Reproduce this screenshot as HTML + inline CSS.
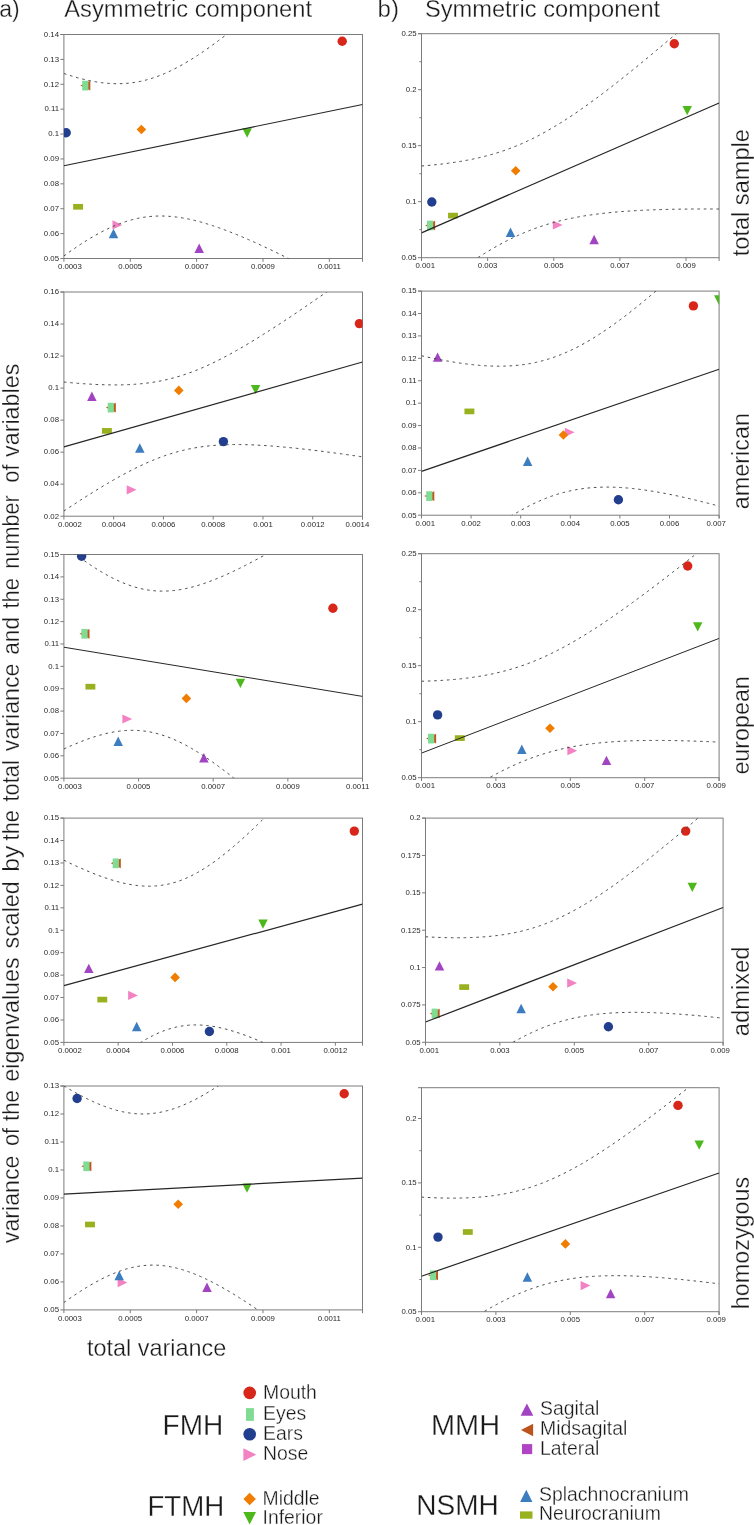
<!DOCTYPE html>
<html><head><meta charset="utf-8"><style>
html,body{margin:0;padding:0;background:#fff;}
svg{display:block;will-change:transform;}
text{font-family:"Liberation Sans", sans-serif;fill:#1a1a1a;}
.big{stroke:#fff;stroke-width:0.3px;}
.tl{font-size:7.8px;fill:#2a2a2a;}
</style></head><body>
<svg width="754" height="1525" viewBox="0 0 754 1525">
<rect width="754" height="1525" fill="#fff"/>
<clipPath id="c0"><rect x="63.9" y="34.5" width="298.6" height="224.0"/></clipPath>
<rect x="63.9" y="34.5" width="298.6" height="224.0" fill="none" stroke="#7c7c7c" stroke-width="1"/>
<path d="M60.40 34.5H63.9M362.5 258.5V261.80" stroke="#7c7c7c" stroke-width="1" fill="none"/>
<text x="59.00" y="260.80" text-anchor="end" class="tl">0.05</text>
<text x="59.00" y="235.91" text-anchor="end" class="tl">0.06</text>
<text x="59.00" y="211.02" text-anchor="end" class="tl">0.07</text>
<text x="59.00" y="186.13" text-anchor="end" class="tl">0.08</text>
<text x="59.00" y="161.24" text-anchor="end" class="tl">0.09</text>
<text x="59.00" y="136.36" text-anchor="end" class="tl">0.1</text>
<text x="59.00" y="111.47" text-anchor="end" class="tl">0.11</text>
<text x="59.00" y="86.58" text-anchor="end" class="tl">0.12</text>
<text x="59.00" y="61.69" text-anchor="end" class="tl">0.13</text>
<text x="59.00" y="36.80" text-anchor="end" class="tl">0.14</text>
<text x="69.83" y="269.20" text-anchor="middle" class="tl">0.0003</text>
<text x="130.26" y="269.20" text-anchor="middle" class="tl">0.0005</text>
<text x="196.61" y="269.20" text-anchor="middle" class="tl">0.0007</text>
<text x="262.97" y="269.20" text-anchor="middle" class="tl">0.0009</text>
<text x="329.32" y="269.20" text-anchor="middle" class="tl">0.0011</text>
<path d="M60.40 258.50H63.9M60.40 233.61H63.9M60.40 208.72H63.9M60.40 183.83H63.9M60.40 158.94H63.9M60.40 134.06H63.9M60.40 109.17H63.9M60.40 84.28H63.9M60.40 59.39H63.9M60.40 34.50H63.9M63.90 258.5V261.80M130.26 258.5V261.80M196.61 258.5V261.80M262.97 258.5V261.80M329.32 258.5V261.80" stroke="#7c7c7c" stroke-width="1" fill="none"/>
<g clip-path="url(#c0)"><polygon points="112.50,220.30 122.30,224.90 112.50,229.50" fill="#f282c2"/><polygon points="113.50,228.80 118.25,238.20 108.75,238.20" fill="#3c7dc0"/><polygon points="199.20,243.50 203.95,252.90 194.45,252.90" fill="#a244c2"/><rect x="73.15" y="203.95" width="9.90" height="5.70" fill="#98b11f"/><circle cx="66.20" cy="132.80" r="4.70" fill="#223e8e"/><polygon points="141.40,124.70 146.20,129.50 141.40,134.30 136.60,129.50" fill="#f07d00"/><polygon points="242.35,128.35 251.85,128.35 247.10,137.65" fill="#4db81b"/><polygon points="90.30,80.75 90.30,90.45 80.30,85.60" fill="#c0561c"/><rect x="82.20" y="80.75" width="6.20" height="9.70" fill="#80dc92"/><circle cx="342.20" cy="41.30" r="4.70" fill="#d8261b"/>
<line x1="63.9" y1="165.74" x2="362.5" y2="104.50" stroke="#262626" stroke-width="1.2"/>
<path d="M63.90 73.55 L65.40 74.04 L66.90 74.54 L68.40 75.02 L69.90 75.49 L71.40 75.95 L72.90 76.40 L74.40 76.84 L75.90 77.27 L77.40 77.69 L78.91 78.10 L80.41 78.49 L81.91 78.88 L83.41 79.25 L84.91 79.61 L86.41 79.96 L87.91 80.29 L89.41 80.61 L90.91 80.92 L92.41 81.21 L93.91 81.49 L95.41 81.75 L96.91 82.00 L98.41 82.23 L99.91 82.45 L101.41 82.65 L102.91 82.83 L104.41 83.00 L105.91 83.15 L107.41 83.29 L108.92 83.40 L110.42 83.50 L111.92 83.58 L113.42 83.65 L114.92 83.69 L116.42 83.71 L117.92 83.72 L119.42 83.70 L120.92 83.67 L122.42 83.62 L123.92 83.54 L125.42 83.45 L126.92 83.33 L128.42 83.19 L129.92 83.04 L131.42 82.86 L132.92 82.66 L134.42 82.44 L135.92 82.20 L137.42 81.94 L138.93 81.65 L140.43 81.35 L141.93 81.02 L143.43 80.67 L144.93 80.30 L146.43 79.91 L147.93 79.50 L149.43 79.06 L150.93 78.61 L152.43 78.14 L153.93 77.64 L155.43 77.13 L156.93 76.59 L158.43 76.03 L159.93 75.46 L161.43 74.86 L162.93 74.25 L164.43 73.61 L165.93 72.96 L167.43 72.29 L168.94 71.60 L170.44 70.89 L171.94 70.17 L173.44 69.43 L174.94 68.67 L176.44 67.89 L177.94 67.10 L179.44 66.29 L180.94 65.47 L182.44 64.63 L183.94 63.77 L185.44 62.90 L186.94 62.02 L188.44 61.12 L189.94 60.21 L191.44 59.29 L192.94 58.35 L194.44 57.40 L195.94 56.43 L197.44 55.46 L198.95 54.47 L200.45 53.47 L201.95 52.46 L203.45 51.44 L204.95 50.40 L206.45 49.36 L207.95 48.31 L209.45 47.24 L210.95 46.17 L212.45 45.09 L213.95 44.00 L215.45 42.89 L216.95 41.79 L218.45 40.67 L219.95 39.54 L221.45 38.41 L222.95 37.26 L224.45 36.11 L225.95 34.96 L227.45 33.79 L228.96 32.62 L230.46 31.44 L231.96 30.25 L233.46 29.06 L234.96 27.86 L236.46 26.66 L237.96 25.45 L239.46 24.23 L240.96 23.01 L242.46 21.78 L243.96 20.55 L245.46 19.31 L246.96 18.06 L248.46 16.81 L249.96 15.56 L251.46 14.30 L252.96 13.04 L254.46 11.77 L255.96 10.50 L257.46 9.22 L258.97 7.94 L260.47 6.65 L261.97 5.36 L263.47 4.07 L264.97 2.77 L266.47 1.47 L267.97 0.17 L269.47 -1.14 L270.97 -2.45 L272.47 -3.76 L273.97 -5.08 L275.47 -6.40 L276.97 -7.73 L278.47 -9.06 L279.97 -10.39 L281.47 -11.72 L282.97 -13.06 L284.47 -14.39 L285.97 -15.74 L287.47 -17.08 L288.98 -18.43 L290.48 -19.78 L291.98 -21.13 L293.48 -22.48 L294.98 -23.84 L296.48 -25.20 L297.98 -26.56 L299.48 -27.92 L300.98 -29.29 L302.48 -30.66 L303.98 -32.03 L305.48 -33.40 L306.98 -34.77 L308.48 -36.15 L309.98 -37.53 L311.48 -38.91 L312.98 -40.29 L314.48 -41.67 L315.98 -43.06 L317.48 -44.45 L318.99 -45.84 L320.49 -47.23 L321.99 -48.62 L323.49 -50.01 L324.99 -51.41 L326.49 -52.80 L327.99 -54.20 L329.49 -55.60 L330.99 -57.00 L332.49 -58.40 L333.99 -59.81 L335.49 -61.21 L336.99 -62.62 L338.49 -64.03 L339.99 -65.44 L341.49 -66.85 L342.99 -68.26 L344.49 -69.67 L345.99 -71.09 L347.49 -72.50 L349.00 -73.92 L350.50 -75.33 L352.00 -76.75 L353.50 -78.17 L355.00 -79.59 L356.50 -81.01 L358.00 -82.44 L359.50 -83.86 L361.00 -85.29 L362.50 -86.71" fill="none" stroke="#4a4a4a" stroke-width="1" stroke-dasharray="2.6 3.75"/>
<path d="M63.90 255.95 L65.40 254.85 L66.90 253.77 L68.40 252.69 L69.90 251.63 L71.40 250.57 L72.90 249.53 L74.40 248.49 L75.90 247.47 L77.40 246.46 L78.91 245.46 L80.41 244.46 L81.91 243.49 L83.41 242.52 L84.91 241.57 L86.41 240.63 L87.91 239.70 L89.41 238.78 L90.91 237.88 L92.41 237.00 L93.91 236.12 L95.41 235.27 L96.91 234.43 L98.41 233.60 L99.91 232.79 L101.41 231.99 L102.91 231.21 L104.41 230.45 L105.91 229.70 L107.41 228.98 L108.92 228.27 L110.42 227.57 L111.92 226.90 L113.42 226.24 L114.92 225.60 L116.42 224.99 L117.92 224.39 L119.42 223.81 L120.92 223.25 L122.42 222.71 L123.92 222.19 L125.42 221.69 L126.92 221.21 L128.42 220.75 L129.92 220.31 L131.42 219.90 L132.92 219.50 L134.42 219.13 L135.92 218.78 L137.42 218.45 L138.93 218.14 L140.43 217.85 L141.93 217.58 L143.43 217.33 L144.93 217.11 L146.43 216.91 L147.93 216.72 L149.43 216.56 L150.93 216.42 L152.43 216.30 L153.93 216.20 L155.43 216.13 L156.93 216.07 L158.43 216.03 L159.93 216.01 L161.43 216.01 L162.93 216.03 L164.43 216.07 L165.93 216.13 L167.43 216.21 L168.94 216.30 L170.44 216.42 L171.94 216.55 L173.44 216.69 L174.94 216.86 L176.44 217.04 L177.94 217.24 L179.44 217.45 L180.94 217.68 L182.44 217.93 L183.94 218.19 L185.44 218.46 L186.94 218.75 L188.44 219.06 L189.94 219.38 L191.44 219.71 L192.94 220.05 L194.44 220.41 L195.94 220.78 L197.44 221.16 L198.95 221.55 L200.45 221.96 L201.95 222.37 L203.45 222.80 L204.95 223.24 L206.45 223.69 L207.95 224.15 L209.45 224.62 L210.95 225.10 L212.45 225.59 L213.95 226.08 L215.45 226.59 L216.95 227.11 L218.45 227.63 L219.95 228.16 L221.45 228.70 L222.95 229.25 L224.45 229.81 L225.95 230.37 L227.45 230.94 L228.96 231.52 L230.46 232.11 L231.96 232.70 L233.46 233.30 L234.96 233.90 L236.46 234.51 L237.96 235.13 L239.46 235.75 L240.96 236.38 L242.46 237.01 L243.96 237.65 L245.46 238.30 L246.96 238.95 L248.46 239.60 L249.96 240.26 L251.46 240.93 L252.96 241.60 L254.46 242.27 L255.96 242.95 L257.46 243.63 L258.97 244.32 L260.47 245.01 L261.97 245.70 L263.47 246.40 L264.97 247.11 L266.47 247.81 L267.97 248.52 L269.47 249.24 L270.97 249.95 L272.47 250.67 L273.97 251.40 L275.47 252.12 L276.97 252.85 L278.47 253.59 L279.97 254.32 L281.47 255.06 L282.97 255.80 L284.47 256.55 L285.97 257.30 L287.47 258.05 L288.98 258.80 L290.48 259.56 L291.98 260.31 L293.48 261.07 L294.98 261.84 L296.48 262.60 L297.98 263.37 L299.48 264.14 L300.98 264.91 L302.48 265.68 L303.98 266.46 L305.48 267.24 L306.98 268.02 L308.48 268.80 L309.98 269.58 L311.48 270.37 L312.98 271.16 L314.48 271.95 L315.98 272.74 L317.48 273.53 L318.99 274.33 L320.49 275.12 L321.99 275.92 L323.49 276.72 L324.99 277.52 L326.49 278.32 L327.99 279.13 L329.49 279.93 L330.99 280.74 L332.49 281.55 L333.99 282.36 L335.49 283.17 L336.99 283.98 L338.49 284.79 L339.99 285.61 L341.49 286.43 L342.99 287.24 L344.49 288.06 L345.99 288.88 L347.49 289.70 L349.00 290.52 L350.50 291.35 L352.00 292.17 L353.50 293.00 L355.00 293.82 L356.50 294.65 L358.00 295.48 L359.50 296.31 L361.00 297.14 L362.50 297.97" fill="none" stroke="#4a4a4a" stroke-width="1" stroke-dasharray="2.6 3.75"/>
</g>
<clipPath id="c1"><rect x="63.9" y="292.0" width="298.6" height="224.20000000000005"/></clipPath>
<rect x="63.9" y="292.0" width="298.6" height="224.20000000000005" fill="none" stroke="#7c7c7c" stroke-width="1"/>
<path d="M60.40 292.0H63.9M362.5 516.2V519.50" stroke="#7c7c7c" stroke-width="1" fill="none"/>
<text x="59.00" y="518.50" text-anchor="end" class="tl">0.02</text>
<text x="59.00" y="486.47" text-anchor="end" class="tl">0.04</text>
<text x="59.00" y="454.44" text-anchor="end" class="tl">0.06</text>
<text x="59.00" y="422.41" text-anchor="end" class="tl">0.08</text>
<text x="59.00" y="390.39" text-anchor="end" class="tl">0.1</text>
<text x="59.00" y="358.36" text-anchor="end" class="tl">0.12</text>
<text x="59.00" y="326.33" text-anchor="end" class="tl">0.14</text>
<text x="59.00" y="294.30" text-anchor="end" class="tl">0.16</text>
<text x="69.83" y="526.90" text-anchor="middle" class="tl">0.0002</text>
<text x="113.67" y="526.90" text-anchor="middle" class="tl">0.0004</text>
<text x="163.43" y="526.90" text-anchor="middle" class="tl">0.0006</text>
<text x="213.20" y="526.90" text-anchor="middle" class="tl">0.0008</text>
<text x="262.97" y="526.90" text-anchor="middle" class="tl">0.001</text>
<text x="312.73" y="526.90" text-anchor="middle" class="tl">0.0012</text>
<text x="357.37" y="526.90" text-anchor="middle" class="tl">0.0014</text>
<path d="M60.40 516.20H63.9M60.40 484.17H63.9M60.40 452.14H63.9M60.40 420.11H63.9M60.40 388.09H63.9M60.40 356.06H63.9M60.40 324.03H63.9M60.40 292.00H63.9M63.90 516.2V519.50M113.67 516.2V519.50M163.43 516.2V519.50M213.20 516.2V519.50M262.97 516.2V519.50M312.73 516.2V519.50M362.50 516.2V519.50" stroke="#7c7c7c" stroke-width="1" fill="none"/>
<g clip-path="url(#c1)"><polygon points="126.70,485.20 136.50,489.80 126.70,494.40" fill="#f282c2"/><polygon points="139.80,443.30 144.55,452.70 135.05,452.70" fill="#3c7dc0"/><polygon points="91.90,391.60 96.65,401.00 87.15,401.00" fill="#a244c2"/><rect x="101.95" y="428.05" width="9.90" height="5.70" fill="#98b11f"/><circle cx="223.40" cy="441.60" r="4.70" fill="#223e8e"/><polygon points="178.80,385.60 183.60,390.40 178.80,395.20 174.00,390.40" fill="#f07d00"/><polygon points="250.85,384.95 260.35,384.95 255.60,394.25" fill="#4db81b"/><polygon points="115.80,402.75 115.80,412.45 105.80,407.60" fill="#c0561c"/><rect x="107.70" y="402.75" width="6.20" height="9.70" fill="#80dc92"/><circle cx="359.40" cy="323.60" r="4.70" fill="#d8261b"/>
<line x1="63.9" y1="446.84" x2="362.5" y2="362.00" stroke="#262626" stroke-width="1.2"/>
<path d="M63.90 382.05 L65.40 382.20 L66.90 382.34 L68.40 382.48 L69.90 382.62 L71.40 382.75 L72.90 382.88 L74.40 383.01 L75.90 383.13 L77.40 383.25 L78.91 383.37 L80.41 383.49 L81.91 383.60 L83.41 383.71 L84.91 383.81 L86.41 383.91 L87.91 384.00 L89.41 384.10 L90.91 384.18 L92.41 384.27 L93.91 384.35 L95.41 384.42 L96.91 384.49 L98.41 384.56 L99.91 384.62 L101.41 384.67 L102.91 384.72 L104.41 384.77 L105.91 384.81 L107.41 384.84 L108.92 384.87 L110.42 384.89 L111.92 384.91 L113.42 384.92 L114.92 384.92 L116.42 384.92 L117.92 384.91 L119.42 384.89 L120.92 384.87 L122.42 384.84 L123.92 384.80 L125.42 384.75 L126.92 384.69 L128.42 384.63 L129.92 384.56 L131.42 384.48 L132.92 384.39 L134.42 384.29 L135.92 384.19 L137.42 384.07 L138.93 383.94 L140.43 383.81 L141.93 383.66 L143.43 383.50 L144.93 383.34 L146.43 383.16 L147.93 382.97 L149.43 382.77 L150.93 382.56 L152.43 382.34 L153.93 382.10 L155.43 381.86 L156.93 381.60 L158.43 381.33 L159.93 381.05 L161.43 380.75 L162.93 380.45 L164.43 380.13 L165.93 379.79 L167.43 379.45 L168.94 379.09 L170.44 378.72 L171.94 378.33 L173.44 377.93 L174.94 377.52 L176.44 377.10 L177.94 376.66 L179.44 376.21 L180.94 375.75 L182.44 375.27 L183.94 374.78 L185.44 374.28 L186.94 373.76 L188.44 373.24 L189.94 372.69 L191.44 372.14 L192.94 371.57 L194.44 371.00 L195.94 370.40 L197.44 369.80 L198.95 369.19 L200.45 368.56 L201.95 367.92 L203.45 367.27 L204.95 366.61 L206.45 365.94 L207.95 365.26 L209.45 364.57 L210.95 363.87 L212.45 363.15 L213.95 362.43 L215.45 361.70 L216.95 360.95 L218.45 360.20 L219.95 359.44 L221.45 358.67 L222.95 357.90 L224.45 357.11 L225.95 356.31 L227.45 355.51 L228.96 354.70 L230.46 353.88 L231.96 353.06 L233.46 352.23 L234.96 351.39 L236.46 350.54 L237.96 349.69 L239.46 348.83 L240.96 347.96 L242.46 347.09 L243.96 346.21 L245.46 345.32 L246.96 344.43 L248.46 343.54 L249.96 342.64 L251.46 341.73 L252.96 340.82 L254.46 339.91 L255.96 338.99 L257.46 338.06 L258.97 337.13 L260.47 336.20 L261.97 335.26 L263.47 334.31 L264.97 333.37 L266.47 332.42 L267.97 331.46 L269.47 330.50 L270.97 329.54 L272.47 328.58 L273.97 327.61 L275.47 326.64 L276.97 325.66 L278.47 324.68 L279.97 323.70 L281.47 322.72 L282.97 321.73 L284.47 320.74 L285.97 319.75 L287.47 318.75 L288.98 317.75 L290.48 316.75 L291.98 315.75 L293.48 314.74 L294.98 313.73 L296.48 312.72 L297.98 311.71 L299.48 310.70 L300.98 309.68 L302.48 308.66 L303.98 307.64 L305.48 306.62 L306.98 305.59 L308.48 304.56 L309.98 303.54 L311.48 302.51 L312.98 301.47 L314.48 300.44 L315.98 299.40 L317.48 298.37 L318.99 297.33 L320.49 296.29 L321.99 295.25 L323.49 294.20 L324.99 293.16 L326.49 292.11 L327.99 291.07 L329.49 290.02 L330.99 288.97 L332.49 287.92 L333.99 286.87 L335.49 285.81 L336.99 284.76 L338.49 283.70 L339.99 282.64 L341.49 281.59 L342.99 280.53 L344.49 279.47 L345.99 278.40 L347.49 277.34 L349.00 276.28 L350.50 275.21 L352.00 274.15 L353.50 273.08 L355.00 272.02 L356.50 270.95 L358.00 269.88 L359.50 268.81 L361.00 267.74 L362.50 266.67" fill="none" stroke="#4a4a4a" stroke-width="1" stroke-dasharray="2.6 3.75"/>
<path d="M63.90 511.00 L65.40 510.00 L66.90 509.01 L68.40 508.02 L69.90 507.03 L71.40 506.05 L72.90 505.06 L74.40 504.08 L75.90 503.11 L77.40 502.13 L78.91 501.16 L80.41 500.20 L81.91 499.24 L83.41 498.28 L84.91 497.32 L86.41 496.37 L87.91 495.42 L89.41 494.48 L90.91 493.54 L92.41 492.60 L93.91 491.67 L95.41 490.75 L96.91 489.82 L98.41 488.91 L99.91 487.99 L101.41 487.09 L102.91 486.18 L104.41 485.29 L105.91 484.40 L107.41 483.51 L108.92 482.63 L110.42 481.76 L111.92 480.89 L113.42 480.03 L114.92 479.17 L116.42 478.32 L117.92 477.48 L119.42 476.65 L120.92 475.82 L122.42 475.00 L123.92 474.19 L125.42 473.38 L126.92 472.59 L128.42 471.80 L129.92 471.02 L131.42 470.25 L132.92 469.48 L134.42 468.73 L135.92 467.99 L137.42 467.25 L138.93 466.52 L140.43 465.81 L141.93 465.10 L143.43 464.41 L144.93 463.72 L146.43 463.05 L147.93 462.39 L149.43 461.73 L150.93 461.09 L152.43 460.46 L153.93 459.85 L155.43 459.24 L156.93 458.65 L158.43 458.06 L159.93 457.50 L161.43 456.94 L162.93 456.39 L164.43 455.86 L165.93 455.34 L167.43 454.84 L168.94 454.34 L170.44 453.86 L171.94 453.40 L173.44 452.94 L174.94 452.50 L176.44 452.07 L177.94 451.66 L179.44 451.26 L180.94 450.87 L182.44 450.50 L183.94 450.13 L185.44 449.78 L186.94 449.45 L188.44 449.13 L189.94 448.81 L191.44 448.52 L192.94 448.23 L194.44 447.96 L195.94 447.70 L197.44 447.45 L198.95 447.21 L200.45 446.99 L201.95 446.77 L203.45 446.57 L204.95 446.38 L206.45 446.20 L207.95 446.03 L209.45 445.87 L210.95 445.72 L212.45 445.58 L213.95 445.45 L215.45 445.33 L216.95 445.22 L218.45 445.12 L219.95 445.03 L221.45 444.95 L222.95 444.87 L224.45 444.81 L225.95 444.75 L227.45 444.70 L228.96 444.66 L230.46 444.63 L231.96 444.60 L233.46 444.58 L234.96 444.57 L236.46 444.57 L237.96 444.57 L239.46 444.58 L240.96 444.59 L242.46 444.61 L243.96 444.64 L245.46 444.67 L246.96 444.71 L248.46 444.75 L249.96 444.80 L251.46 444.85 L252.96 444.91 L254.46 444.98 L255.96 445.05 L257.46 445.12 L258.97 445.20 L260.47 445.28 L261.97 445.37 L263.47 445.46 L264.97 445.55 L266.47 445.65 L267.97 445.76 L269.47 445.86 L270.97 445.97 L272.47 446.09 L273.97 446.20 L275.47 446.32 L276.97 446.45 L278.47 446.57 L279.97 446.70 L281.47 446.84 L282.97 446.97 L284.47 447.11 L285.97 447.25 L287.47 447.40 L288.98 447.54 L290.48 447.69 L291.98 447.84 L293.48 448.00 L294.98 448.15 L296.48 448.31 L297.98 448.47 L299.48 448.64 L300.98 448.80 L302.48 448.97 L303.98 449.14 L305.48 449.31 L306.98 449.48 L308.48 449.66 L309.98 449.83 L311.48 450.01 L312.98 450.19 L314.48 450.37 L315.98 450.56 L317.48 450.74 L318.99 450.93 L320.49 451.12 L321.99 451.31 L323.49 451.50 L324.99 451.69 L326.49 451.89 L327.99 452.08 L329.49 452.28 L330.99 452.48 L332.49 452.68 L333.99 452.88 L335.49 453.08 L336.99 453.28 L338.49 453.49 L339.99 453.69 L341.49 453.90 L342.99 454.10 L344.49 454.31 L345.99 454.52 L347.49 454.73 L349.00 454.95 L350.50 455.16 L352.00 455.37 L353.50 455.59 L355.00 455.80 L356.50 456.02 L358.00 456.23 L359.50 456.45 L361.00 456.67 L362.50 456.89" fill="none" stroke="#4a4a4a" stroke-width="1" stroke-dasharray="2.6 3.75"/>
</g>
<clipPath id="c2"><rect x="63.9" y="554.5" width="298.6" height="223.70000000000005"/></clipPath>
<rect x="63.9" y="554.5" width="298.6" height="223.70000000000005" fill="none" stroke="#7c7c7c" stroke-width="1"/>
<path d="M60.40 554.5H63.9M362.5 778.2V781.50" stroke="#7c7c7c" stroke-width="1" fill="none"/>
<text x="59.00" y="780.50" text-anchor="end" class="tl">0.05</text>
<text x="59.00" y="758.13" text-anchor="end" class="tl">0.06</text>
<text x="59.00" y="735.76" text-anchor="end" class="tl">0.07</text>
<text x="59.00" y="713.39" text-anchor="end" class="tl">0.08</text>
<text x="59.00" y="691.02" text-anchor="end" class="tl">0.09</text>
<text x="59.00" y="668.65" text-anchor="end" class="tl">0.1</text>
<text x="59.00" y="646.28" text-anchor="end" class="tl">0.11</text>
<text x="59.00" y="623.91" text-anchor="end" class="tl">0.12</text>
<text x="59.00" y="601.54" text-anchor="end" class="tl">0.13</text>
<text x="59.00" y="579.17" text-anchor="end" class="tl">0.14</text>
<text x="59.00" y="556.80" text-anchor="end" class="tl">0.15</text>
<text x="69.83" y="788.90" text-anchor="middle" class="tl">0.0003</text>
<text x="138.55" y="788.90" text-anchor="middle" class="tl">0.0005</text>
<text x="213.20" y="788.90" text-anchor="middle" class="tl">0.0007</text>
<text x="287.85" y="788.90" text-anchor="middle" class="tl">0.0009</text>
<text x="357.66" y="788.90" text-anchor="middle" class="tl">0.0011</text>
<path d="M60.40 778.20H63.9M60.40 755.83H63.9M60.40 733.46H63.9M60.40 711.09H63.9M60.40 688.72H63.9M60.40 666.35H63.9M60.40 643.98H63.9M60.40 621.61H63.9M60.40 599.24H63.9M60.40 576.87H63.9M60.40 554.50H63.9M63.90 778.2V781.50M138.55 778.2V781.50M213.20 778.2V781.50M287.85 778.2V781.50M362.50 778.2V781.50" stroke="#7c7c7c" stroke-width="1" fill="none"/>
<g clip-path="url(#c2)"><polygon points="122.40,714.40 132.20,719.00 122.40,723.60" fill="#f282c2"/><polygon points="118.20,736.50 122.95,745.90 113.45,745.90" fill="#3c7dc0"/><polygon points="203.90,753.10 208.65,762.50 199.15,762.50" fill="#a244c2"/><rect x="85.45" y="683.85" width="9.90" height="5.70" fill="#98b11f"/><circle cx="81.60" cy="556.20" r="4.70" fill="#223e8e"/><polygon points="186.40,693.60 191.20,698.40 186.40,703.20 181.60,698.40" fill="#f07d00"/><polygon points="235.65,678.75 245.15,678.75 240.40,688.05" fill="#4db81b"/><polygon points="89.50,628.95 89.50,638.65 79.50,633.80" fill="#c0561c"/><rect x="81.40" y="628.95" width="6.20" height="9.70" fill="#80dc92"/><circle cx="332.90" cy="608.20" r="4.70" fill="#d8261b"/>
<line x1="63.9" y1="647.23" x2="362.5" y2="696.40" stroke="#262626" stroke-width="1.0"/>
<path d="M63.90 545.55 L65.40 546.73 L66.90 547.90 L68.40 549.06 L69.90 550.21 L71.40 551.36 L72.90 552.49 L74.40 553.62 L75.90 554.73 L77.40 555.84 L78.91 556.93 L80.41 558.01 L81.91 559.09 L83.41 560.15 L84.91 561.20 L86.41 562.23 L87.91 563.26 L89.41 564.27 L90.91 565.27 L92.41 566.26 L93.91 567.23 L95.41 568.19 L96.91 569.13 L98.41 570.06 L99.91 570.97 L101.41 571.87 L102.91 572.75 L104.41 573.62 L105.91 574.47 L107.41 575.30 L108.92 576.11 L110.42 576.91 L111.92 577.68 L113.42 578.44 L114.92 579.18 L116.42 579.90 L117.92 580.61 L119.42 581.29 L120.92 581.95 L122.42 582.59 L123.92 583.20 L125.42 583.80 L126.92 584.38 L128.42 584.93 L129.92 585.46 L131.42 585.97 L132.92 586.45 L134.42 586.91 L135.92 587.35 L137.42 587.77 L138.93 588.16 L140.43 588.52 L141.93 588.87 L143.43 589.19 L144.93 589.48 L146.43 589.75 L147.93 590.00 L149.43 590.22 L150.93 590.42 L152.43 590.59 L153.93 590.74 L155.43 590.86 L156.93 590.96 L158.43 591.04 L159.93 591.09 L161.43 591.12 L162.93 591.13 L164.43 591.12 L165.93 591.08 L167.43 591.01 L168.94 590.93 L170.44 590.83 L171.94 590.70 L173.44 590.55 L174.94 590.38 L176.44 590.19 L177.94 589.98 L179.44 589.75 L180.94 589.50 L182.44 589.23 L183.94 588.94 L185.44 588.63 L186.94 588.31 L188.44 587.97 L189.94 587.61 L191.44 587.23 L192.94 586.84 L194.44 586.43 L195.94 586.01 L197.44 585.57 L198.95 585.11 L200.45 584.64 L201.95 584.16 L203.45 583.66 L204.95 583.15 L206.45 582.62 L207.95 582.09 L209.45 581.54 L210.95 580.98 L212.45 580.40 L213.95 579.82 L215.45 579.22 L216.95 578.61 L218.45 577.99 L219.95 577.37 L221.45 576.73 L222.95 576.08 L224.45 575.42 L225.95 574.75 L227.45 574.08 L228.96 573.39 L230.46 572.70 L231.96 572.00 L233.46 571.29 L234.96 570.57 L236.46 569.85 L237.96 569.12 L239.46 568.38 L240.96 567.63 L242.46 566.88 L243.96 566.12 L245.46 565.35 L246.96 564.58 L248.46 563.80 L249.96 563.01 L251.46 562.22 L252.96 561.43 L254.46 560.62 L255.96 559.82 L257.46 559.00 L258.97 558.19 L260.47 557.36 L261.97 556.54 L263.47 555.71 L264.97 554.87 L266.47 554.03 L267.97 553.18 L269.47 552.33 L270.97 551.48 L272.47 550.62 L273.97 549.76 L275.47 548.90 L276.97 548.03 L278.47 547.15 L279.97 546.28 L281.47 545.40 L282.97 544.52 L284.47 543.63 L285.97 542.74 L287.47 541.85 L288.98 540.95 L290.48 540.05 L291.98 539.15 L293.48 538.25 L294.98 537.34 L296.48 536.43 L297.98 535.52 L299.48 534.60 L300.98 533.69 L302.48 532.77 L303.98 531.84 L305.48 530.92 L306.98 529.99 L308.48 529.06 L309.98 528.13 L311.48 527.20 L312.98 526.26 L314.48 525.33 L315.98 524.39 L317.48 523.44 L318.99 522.50 L320.49 521.55 L321.99 520.61 L323.49 519.66 L324.99 518.71 L326.49 517.75 L327.99 516.80 L329.49 515.84 L330.99 514.88 L332.49 513.93 L333.99 512.96 L335.49 512.00 L336.99 511.04 L338.49 510.07 L339.99 509.11 L341.49 508.14 L342.99 507.17 L344.49 506.20 L345.99 505.22 L347.49 504.25 L349.00 503.28 L350.50 502.30 L352.00 501.32 L353.50 500.34 L355.00 499.36 L356.50 498.38 L358.00 497.40 L359.50 496.42 L361.00 495.43 L362.50 494.45" fill="none" stroke="#4a4a4a" stroke-width="1" stroke-dasharray="2.6 3.75"/>
<path d="M63.90 749.00 L65.40 748.30 L66.90 747.61 L68.40 746.93 L69.90 746.26 L71.40 745.60 L72.90 744.95 L74.40 744.31 L75.90 743.68 L77.40 743.05 L78.91 742.44 L80.41 741.84 L81.91 741.25 L83.41 740.67 L84.91 740.11 L86.41 739.55 L87.91 739.01 L89.41 738.48 L90.91 737.97 L92.41 737.46 L93.91 736.97 L95.41 736.50 L96.91 736.04 L98.41 735.59 L99.91 735.16 L101.41 734.75 L102.91 734.35 L104.41 733.97 L105.91 733.60 L107.41 733.25 L108.92 732.92 L110.42 732.61 L111.92 732.31 L113.42 732.04 L114.92 731.78 L116.42 731.54 L117.92 731.33 L119.42 731.13 L120.92 730.95 L122.42 730.79 L123.92 730.66 L125.42 730.54 L126.92 730.45 L128.42 730.38 L129.92 730.34 L131.42 730.31 L132.92 730.31 L134.42 730.33 L135.92 730.38 L137.42 730.44 L138.93 730.54 L140.43 730.65 L141.93 730.79 L143.43 730.96 L144.93 731.14 L146.43 731.36 L147.93 731.59 L149.43 731.86 L150.93 732.14 L152.43 732.45 L153.93 732.79 L155.43 733.14 L156.93 733.53 L158.43 733.93 L159.93 734.36 L161.43 734.81 L162.93 735.29 L164.43 735.79 L165.93 736.31 L167.43 736.86 L168.94 737.42 L170.44 738.01 L171.94 738.62 L173.44 739.25 L174.94 739.91 L176.44 740.58 L177.94 741.27 L179.44 741.99 L180.94 742.72 L182.44 743.47 L183.94 744.24 L185.44 745.03 L186.94 745.84 L188.44 746.66 L189.94 747.51 L191.44 748.37 L192.94 749.24 L194.44 750.13 L195.94 751.04 L197.44 751.96 L198.95 752.90 L200.45 753.85 L201.95 754.82 L203.45 755.80 L204.95 756.80 L206.45 757.80 L207.95 758.82 L209.45 759.86 L210.95 760.90 L212.45 761.96 L213.95 763.03 L215.45 764.11 L216.95 765.20 L218.45 766.30 L219.95 767.41 L221.45 768.53 L222.95 769.66 L224.45 770.80 L225.95 771.95 L227.45 773.11 L228.96 774.28 L230.46 775.46 L231.96 776.64 L233.46 777.83 L234.96 779.03 L236.46 780.24 L237.96 781.46 L239.46 782.68 L240.96 783.91 L242.46 785.14 L243.96 786.39 L245.46 787.64 L246.96 788.89 L248.46 790.16 L249.96 791.42 L251.46 792.70 L252.96 793.98 L254.46 795.26 L255.96 796.55 L257.46 797.85 L258.97 799.15 L260.47 800.45 L261.97 801.76 L263.47 803.08 L264.97 804.40 L266.47 805.72 L267.97 807.05 L269.47 808.38 L270.97 809.72 L272.47 811.06 L273.97 812.40 L275.47 813.75 L276.97 815.10 L278.47 816.46 L279.97 817.82 L281.47 819.18 L282.97 820.54 L284.47 821.91 L285.97 823.29 L287.47 824.66 L288.98 826.04 L290.48 827.42 L291.98 828.81 L293.48 830.19 L294.98 831.58 L296.48 832.98 L297.98 834.37 L299.48 835.77 L300.98 837.17 L302.48 838.57 L303.98 839.98 L305.48 841.39 L306.98 842.80 L308.48 844.21 L309.98 845.62 L311.48 847.04 L312.98 848.46 L314.48 849.88 L315.98 851.30 L317.48 852.73 L318.99 854.15 L320.49 855.58 L321.99 857.01 L323.49 858.45 L324.99 859.88 L326.49 861.32 L327.99 862.75 L329.49 864.19 L330.99 865.63 L332.49 867.08 L333.99 868.52 L335.49 869.96 L336.99 871.41 L338.49 872.86 L339.99 874.31 L341.49 875.76 L342.99 877.21 L344.49 878.67 L345.99 880.12 L347.49 881.58 L349.00 883.04 L350.50 884.50 L352.00 885.96 L353.50 887.42 L355.00 888.88 L356.50 890.35 L358.00 891.81 L359.50 893.28 L361.00 894.75 L362.50 896.21" fill="none" stroke="#4a4a4a" stroke-width="1" stroke-dasharray="2.6 3.75"/>
</g>
<clipPath id="c3"><rect x="63.9" y="818.1" width="298.6" height="224.30000000000007"/></clipPath>
<rect x="63.9" y="818.1" width="298.6" height="224.30000000000007" fill="none" stroke="#7c7c7c" stroke-width="1"/>
<path d="M60.40 818.1H63.9M362.5 1042.4V1045.70" stroke="#7c7c7c" stroke-width="1" fill="none"/>
<text x="59.00" y="1044.70" text-anchor="end" class="tl">0.05</text>
<text x="59.00" y="1022.27" text-anchor="end" class="tl">0.06</text>
<text x="59.00" y="999.84" text-anchor="end" class="tl">0.07</text>
<text x="59.00" y="977.41" text-anchor="end" class="tl">0.08</text>
<text x="59.00" y="954.98" text-anchor="end" class="tl">0.09</text>
<text x="59.00" y="932.55" text-anchor="end" class="tl">0.1</text>
<text x="59.00" y="910.12" text-anchor="end" class="tl">0.11</text>
<text x="59.00" y="887.69" text-anchor="end" class="tl">0.12</text>
<text x="59.00" y="865.26" text-anchor="end" class="tl">0.13</text>
<text x="59.00" y="842.83" text-anchor="end" class="tl">0.14</text>
<text x="59.00" y="820.40" text-anchor="end" class="tl">0.15</text>
<text x="69.83" y="1053.10" text-anchor="middle" class="tl">0.0002</text>
<text x="118.19" y="1053.10" text-anchor="middle" class="tl">0.0004</text>
<text x="172.48" y="1053.10" text-anchor="middle" class="tl">0.0006</text>
<text x="226.77" y="1053.10" text-anchor="middle" class="tl">0.0008</text>
<text x="281.06" y="1053.10" text-anchor="middle" class="tl">0.001</text>
<text x="335.35" y="1053.10" text-anchor="middle" class="tl">0.0012</text>
<path d="M60.40 1042.40H63.9M60.40 1019.97H63.9M60.40 997.54H63.9M60.40 975.11H63.9M60.40 952.68H63.9M60.40 930.25H63.9M60.40 907.82H63.9M60.40 885.39H63.9M60.40 862.96H63.9M60.40 840.53H63.9M60.40 818.10H63.9M63.90 1042.4V1045.70M118.19 1042.4V1045.70M172.48 1042.4V1045.70M226.77 1042.4V1045.70M281.06 1042.4V1045.70M335.35 1042.4V1045.70" stroke="#7c7c7c" stroke-width="1" fill="none"/>
<g clip-path="url(#c3)"><polygon points="128.10,990.80 137.90,995.40 128.10,1000.00" fill="#f282c2"/><polygon points="136.70,1021.80 141.45,1031.20 131.95,1031.20" fill="#3c7dc0"/><polygon points="88.80,963.70 93.55,973.10 84.05,973.10" fill="#a244c2"/><rect x="97.35" y="996.75" width="9.90" height="5.70" fill="#98b11f"/><circle cx="209.40" cy="1031.50" r="4.70" fill="#223e8e"/><polygon points="175.10,972.60 179.90,977.40 175.10,982.20 170.30,977.40" fill="#f07d00"/><polygon points="258.25,919.55 267.75,919.55 263.00,928.85" fill="#4db81b"/><polygon points="120.80,858.45 120.80,868.15 110.80,863.30" fill="#c0561c"/><rect x="112.70" y="858.45" width="6.20" height="9.70" fill="#80dc92"/><circle cx="354.30" cy="831.10" r="4.70" fill="#d8261b"/>
<line x1="63.9" y1="985.55" x2="362.5" y2="904.20" stroke="#262626" stroke-width="1.2"/>
<path d="M63.90 860.22 L65.40 860.95 L66.90 861.68 L68.40 862.40 L69.90 863.12 L71.40 863.83 L72.90 864.54 L74.40 865.23 L75.90 865.93 L77.40 866.61 L78.91 867.29 L80.41 867.96 L81.91 868.63 L83.41 869.28 L84.91 869.93 L86.41 870.57 L87.91 871.21 L89.41 871.83 L90.91 872.45 L92.41 873.05 L93.91 873.65 L95.41 874.24 L96.91 874.82 L98.41 875.39 L99.91 875.94 L101.41 876.49 L102.91 877.03 L104.41 877.56 L105.91 878.07 L107.41 878.57 L108.92 879.06 L110.42 879.54 L111.92 880.00 L113.42 880.45 L114.92 880.89 L116.42 881.31 L117.92 881.72 L119.42 882.12 L120.92 882.50 L122.42 882.86 L123.92 883.21 L125.42 883.54 L126.92 883.85 L128.42 884.14 L129.92 884.42 L131.42 884.68 L132.92 884.92 L134.42 885.14 L135.92 885.34 L137.42 885.52 L138.93 885.69 L140.43 885.82 L141.93 885.94 L143.43 886.04 L144.93 886.11 L146.43 886.16 L147.93 886.19 L149.43 886.19 L150.93 886.17 L152.43 886.13 L153.93 886.06 L155.43 885.97 L156.93 885.85 L158.43 885.70 L159.93 885.53 L161.43 885.33 L162.93 885.11 L164.43 884.86 L165.93 884.58 L167.43 884.27 L168.94 883.94 L170.44 883.58 L171.94 883.20 L173.44 882.78 L174.94 882.34 L176.44 881.88 L177.94 881.38 L179.44 880.86 L180.94 880.31 L182.44 879.73 L183.94 879.13 L185.44 878.50 L186.94 877.85 L188.44 877.17 L189.94 876.46 L191.44 875.73 L192.94 874.97 L194.44 874.19 L195.94 873.38 L197.44 872.55 L198.95 871.70 L200.45 870.83 L201.95 869.93 L203.45 869.01 L204.95 868.06 L206.45 867.10 L207.95 866.11 L209.45 865.11 L210.95 864.08 L212.45 863.04 L213.95 861.97 L215.45 860.89 L216.95 859.79 L218.45 858.67 L219.95 857.54 L221.45 856.38 L222.95 855.21 L224.45 854.03 L225.95 852.83 L227.45 851.61 L228.96 850.38 L230.46 849.14 L231.96 847.88 L233.46 846.61 L234.96 845.32 L236.46 844.02 L237.96 842.71 L239.46 841.39 L240.96 840.05 L242.46 838.71 L243.96 837.35 L245.46 835.98 L246.96 834.60 L248.46 833.21 L249.96 831.81 L251.46 830.41 L252.96 828.99 L254.46 827.56 L255.96 826.13 L257.46 824.68 L258.97 823.23 L260.47 821.77 L261.97 820.30 L263.47 818.82 L264.97 817.34 L266.47 815.85 L267.97 814.35 L269.47 812.85 L270.97 811.34 L272.47 809.82 L273.97 808.30 L275.47 806.77 L276.97 805.23 L278.47 803.69 L279.97 802.14 L281.47 800.59 L282.97 799.03 L284.47 797.47 L285.97 795.90 L287.47 794.33 L288.98 792.75 L290.48 791.17 L291.98 789.59 L293.48 787.99 L294.98 786.40 L296.48 784.80 L297.98 783.20 L299.48 781.59 L300.98 779.98 L302.48 778.36 L303.98 776.75 L305.48 775.12 L306.98 773.50 L308.48 771.87 L309.98 770.24 L311.48 768.60 L312.98 766.96 L314.48 765.32 L315.98 763.68 L317.48 762.03 L318.99 760.38 L320.49 758.73 L321.99 757.07 L323.49 755.41 L324.99 753.75 L326.49 752.09 L327.99 750.42 L329.49 748.76 L330.99 747.09 L332.49 745.41 L333.99 743.74 L335.49 742.06 L336.99 740.38 L338.49 738.70 L339.99 737.02 L341.49 735.33 L342.99 733.64 L344.49 731.95 L345.99 730.26 L347.49 728.57 L349.00 726.87 L350.50 725.18 L352.00 723.48 L353.50 721.78 L355.00 720.08 L356.50 718.37 L358.00 716.67 L359.50 714.96 L361.00 713.25 L362.50 711.54" fill="none" stroke="#4a4a4a" stroke-width="1" stroke-dasharray="2.6 3.75"/>
<path d="M63.90 1109.91 L65.40 1108.36 L66.90 1106.82 L68.40 1105.28 L69.90 1103.75 L71.40 1102.22 L72.90 1100.70 L74.40 1099.18 L75.90 1097.68 L77.40 1096.17 L78.91 1094.68 L80.41 1093.19 L81.91 1091.71 L83.41 1090.24 L84.91 1088.77 L86.41 1087.31 L87.91 1085.87 L89.41 1084.42 L90.91 1082.99 L92.41 1081.57 L93.91 1080.16 L95.41 1078.75 L96.91 1077.36 L98.41 1075.97 L99.91 1074.60 L101.41 1073.23 L102.91 1071.88 L104.41 1070.54 L105.91 1069.21 L107.41 1067.89 L108.92 1066.58 L110.42 1065.29 L111.92 1064.01 L113.42 1062.74 L114.92 1061.49 L116.42 1060.25 L117.92 1059.02 L119.42 1057.81 L120.92 1056.62 L122.42 1055.44 L123.92 1054.28 L125.42 1053.13 L126.92 1052.00 L128.42 1050.89 L129.92 1049.80 L131.42 1048.72 L132.92 1047.66 L134.42 1046.63 L135.92 1045.61 L137.42 1044.61 L138.93 1043.63 L140.43 1042.68 L141.93 1041.74 L143.43 1040.83 L144.93 1039.94 L146.43 1039.07 L147.93 1038.23 L149.43 1037.41 L150.93 1036.61 L152.43 1035.84 L153.93 1035.10 L155.43 1034.37 L156.93 1033.68 L158.43 1033.01 L159.93 1032.36 L161.43 1031.74 L162.93 1031.15 L164.43 1030.59 L165.93 1030.05 L167.43 1029.54 L168.94 1029.05 L170.44 1028.59 L171.94 1028.16 L173.44 1027.76 L174.94 1027.39 L176.44 1027.04 L177.94 1026.72 L179.44 1026.42 L180.94 1026.16 L182.44 1025.92 L183.94 1025.70 L185.44 1025.51 L186.94 1025.35 L188.44 1025.22 L189.94 1025.11 L191.44 1025.02 L192.94 1024.96 L194.44 1024.93 L195.94 1024.92 L197.44 1024.93 L198.95 1024.97 L200.45 1025.03 L201.95 1025.11 L203.45 1025.22 L204.95 1025.34 L206.45 1025.49 L207.95 1025.66 L209.45 1025.85 L210.95 1026.06 L212.45 1026.29 L213.95 1026.53 L215.45 1026.80 L216.95 1027.08 L218.45 1027.39 L219.95 1027.71 L221.45 1028.04 L222.95 1028.40 L224.45 1028.76 L225.95 1029.15 L227.45 1029.55 L228.96 1029.96 L230.46 1030.39 L231.96 1030.84 L233.46 1031.29 L234.96 1031.76 L236.46 1032.24 L237.96 1032.74 L239.46 1033.25 L240.96 1033.76 L242.46 1034.29 L243.96 1034.84 L245.46 1035.39 L246.96 1035.95 L248.46 1036.52 L249.96 1037.10 L251.46 1037.70 L252.96 1038.30 L254.46 1038.91 L255.96 1039.53 L257.46 1040.16 L258.97 1040.79 L260.47 1041.44 L261.97 1042.09 L263.47 1042.75 L264.97 1043.42 L266.47 1044.09 L267.97 1044.77 L269.47 1045.46 L270.97 1046.15 L272.47 1046.85 L273.97 1047.56 L275.47 1048.28 L276.97 1048.99 L278.47 1049.72 L279.97 1050.45 L281.47 1051.19 L282.97 1051.93 L284.47 1052.67 L285.97 1053.43 L287.47 1054.18 L288.98 1054.94 L290.48 1055.71 L291.98 1056.48 L293.48 1057.25 L294.98 1058.03 L296.48 1058.81 L297.98 1059.60 L299.48 1060.39 L300.98 1061.19 L302.48 1061.99 L303.98 1062.79 L305.48 1063.59 L306.98 1064.40 L308.48 1065.22 L309.98 1066.03 L311.48 1066.85 L312.98 1067.67 L314.48 1068.50 L315.98 1069.33 L317.48 1070.16 L318.99 1070.99 L320.49 1071.83 L321.99 1072.67 L323.49 1073.51 L324.99 1074.35 L326.49 1075.20 L327.99 1076.05 L329.49 1076.90 L330.99 1077.76 L332.49 1078.61 L333.99 1079.47 L335.49 1080.33 L336.99 1081.20 L338.49 1082.06 L339.99 1082.93 L341.49 1083.80 L342.99 1084.67 L344.49 1085.54 L345.99 1086.42 L347.49 1087.29 L349.00 1088.17 L350.50 1089.05 L352.00 1089.94 L353.50 1090.82 L355.00 1091.71 L356.50 1092.59 L358.00 1093.48 L359.50 1094.37 L361.00 1095.26 L362.50 1096.16" fill="none" stroke="#4a4a4a" stroke-width="1" stroke-dasharray="2.6 3.75"/>
</g>
<clipPath id="c4"><rect x="63.9" y="1086.0" width="298.6" height="223.9000000000001"/></clipPath>
<rect x="63.9" y="1086.0" width="298.6" height="223.9000000000001" fill="none" stroke="#7c7c7c" stroke-width="1"/>
<path d="M60.40 1086.0H63.9M362.5 1309.9V1313.20" stroke="#7c7c7c" stroke-width="1" fill="none"/>
<text x="59.00" y="1312.20" text-anchor="end" class="tl">0.05</text>
<text x="59.00" y="1284.21" text-anchor="end" class="tl">0.06</text>
<text x="59.00" y="1256.22" text-anchor="end" class="tl">0.07</text>
<text x="59.00" y="1228.24" text-anchor="end" class="tl">0.08</text>
<text x="59.00" y="1200.25" text-anchor="end" class="tl">0.09</text>
<text x="59.00" y="1172.26" text-anchor="end" class="tl">0.1</text>
<text x="59.00" y="1144.27" text-anchor="end" class="tl">0.11</text>
<text x="59.00" y="1116.29" text-anchor="end" class="tl">0.12</text>
<text x="59.00" y="1088.30" text-anchor="end" class="tl">0.13</text>
<text x="69.83" y="1320.60" text-anchor="middle" class="tl">0.0003</text>
<text x="130.26" y="1320.60" text-anchor="middle" class="tl">0.0005</text>
<text x="196.61" y="1320.60" text-anchor="middle" class="tl">0.0007</text>
<text x="262.97" y="1320.60" text-anchor="middle" class="tl">0.0009</text>
<text x="329.32" y="1320.60" text-anchor="middle" class="tl">0.0011</text>
<path d="M60.40 1309.90H63.9M60.40 1281.91H63.9M60.40 1253.92H63.9M60.40 1225.94H63.9M60.40 1197.95H63.9M60.40 1169.96H63.9M60.40 1141.97H63.9M60.40 1113.99H63.9M60.40 1086.00H63.9M63.90 1309.9V1313.20M130.26 1309.9V1313.20M196.61 1309.9V1313.20M262.97 1309.9V1313.20M329.32 1309.9V1313.20" stroke="#7c7c7c" stroke-width="1" fill="none"/>
<g clip-path="url(#c4)"><polygon points="117.60,1278.00 127.40,1282.60 117.60,1287.20" fill="#f282c2"/><polygon points="119.20,1270.80 123.95,1280.20 114.45,1280.20" fill="#3c7dc0"/><polygon points="207.00,1282.60 211.75,1292.00 202.25,1292.00" fill="#a244c2"/><rect x="85.05" y="1221.65" width="9.90" height="5.70" fill="#98b11f"/><circle cx="77.10" cy="1098.50" r="4.70" fill="#223e8e"/><polygon points="178.20,1199.50 183.00,1204.30 178.20,1209.10 173.40,1204.30" fill="#f07d00"/><polygon points="242.25,1183.45 251.75,1183.45 247.00,1192.75" fill="#4db81b"/><polygon points="91.40,1161.45 91.40,1171.15 81.40,1166.30" fill="#c0561c"/><rect x="83.30" y="1161.45" width="6.20" height="9.70" fill="#80dc92"/><circle cx="344.20" cy="1093.70" r="4.70" fill="#d8261b"/>
<line x1="63.9" y1="1194.09" x2="362.5" y2="1178.10" stroke="#262626" stroke-width="1.2"/>
<path d="M63.90 1085.98 L65.40 1086.88 L66.90 1087.77 L68.40 1088.65 L69.90 1089.53 L71.40 1090.39 L72.90 1091.24 L74.40 1092.09 L75.90 1092.92 L77.40 1093.74 L78.91 1094.55 L80.41 1095.35 L81.91 1096.14 L83.41 1096.92 L84.91 1097.68 L86.41 1098.43 L87.91 1099.17 L89.41 1099.89 L90.91 1100.60 L92.41 1101.30 L93.91 1101.98 L95.41 1102.65 L96.91 1103.30 L98.41 1103.94 L99.91 1104.56 L101.41 1105.17 L102.91 1105.76 L104.41 1106.33 L105.91 1106.88 L107.41 1107.42 L108.92 1107.94 L110.42 1108.43 L111.92 1108.91 L113.42 1109.37 L114.92 1109.82 L116.42 1110.24 L117.92 1110.64 L119.42 1111.02 L120.92 1111.37 L122.42 1111.71 L123.92 1112.02 L125.42 1112.31 L126.92 1112.58 L128.42 1112.83 L129.92 1113.05 L131.42 1113.25 L132.92 1113.43 L134.42 1113.58 L135.92 1113.70 L137.42 1113.81 L138.93 1113.88 L140.43 1113.94 L141.93 1113.97 L143.43 1113.97 L144.93 1113.95 L146.43 1113.90 L147.93 1113.82 L149.43 1113.73 L150.93 1113.60 L152.43 1113.45 L153.93 1113.28 L155.43 1113.08 L156.93 1112.86 L158.43 1112.61 L159.93 1112.34 L161.43 1112.04 L162.93 1111.72 L164.43 1111.37 L165.93 1111.00 L167.43 1110.61 L168.94 1110.19 L170.44 1109.75 L171.94 1109.29 L173.44 1108.80 L174.94 1108.30 L176.44 1107.77 L177.94 1107.22 L179.44 1106.65 L180.94 1106.06 L182.44 1105.44 L183.94 1104.81 L185.44 1104.16 L186.94 1103.49 L188.44 1102.81 L189.94 1102.10 L191.44 1101.37 L192.94 1100.63 L194.44 1099.87 L195.94 1099.10 L197.44 1098.31 L198.95 1097.50 L200.45 1096.68 L201.95 1095.84 L203.45 1094.99 L204.95 1094.12 L206.45 1093.24 L207.95 1092.34 L209.45 1091.44 L210.95 1090.52 L212.45 1089.58 L213.95 1088.64 L215.45 1087.68 L216.95 1086.71 L218.45 1085.73 L219.95 1084.74 L221.45 1083.73 L222.95 1082.72 L224.45 1081.70 L225.95 1080.67 L227.45 1079.62 L228.96 1078.57 L230.46 1077.51 L231.96 1076.44 L233.46 1075.36 L234.96 1074.27 L236.46 1073.18 L237.96 1072.08 L239.46 1070.97 L240.96 1069.85 L242.46 1068.72 L243.96 1067.59 L245.46 1066.45 L246.96 1065.30 L248.46 1064.15 L249.96 1062.99 L251.46 1061.83 L252.96 1060.65 L254.46 1059.48 L255.96 1058.29 L257.46 1057.10 L258.97 1055.91 L260.47 1054.71 L261.97 1053.51 L263.47 1052.30 L264.97 1051.08 L266.47 1049.86 L267.97 1048.64 L269.47 1047.41 L270.97 1046.18 L272.47 1044.94 L273.97 1043.70 L275.47 1042.45 L276.97 1041.20 L278.47 1039.95 L279.97 1038.69 L281.47 1037.43 L282.97 1036.16 L284.47 1034.89 L285.97 1033.62 L287.47 1032.35 L288.98 1031.07 L290.48 1029.79 L291.98 1028.50 L293.48 1027.21 L294.98 1025.92 L296.48 1024.63 L297.98 1023.33 L299.48 1022.03 L300.98 1020.73 L302.48 1019.43 L303.98 1018.12 L305.48 1016.81 L306.98 1015.50 L308.48 1014.18 L309.98 1012.86 L311.48 1011.54 L312.98 1010.22 L314.48 1008.90 L315.98 1007.57 L317.48 1006.24 L318.99 1004.91 L320.49 1003.58 L321.99 1002.24 L323.49 1000.91 L324.99 999.57 L326.49 998.23 L327.99 996.89 L329.49 995.54 L330.99 994.20 L332.49 992.85 L333.99 991.50 L335.49 990.15 L336.99 988.80 L338.49 987.44 L339.99 986.09 L341.49 984.73 L342.99 983.37 L344.49 982.01 L345.99 980.65 L347.49 979.28 L349.00 977.92 L350.50 976.55 L352.00 975.19 L353.50 973.82 L355.00 972.45 L356.50 971.08 L358.00 969.71 L359.50 968.33 L361.00 966.96 L362.50 965.58" fill="none" stroke="#4a4a4a" stroke-width="1" stroke-dasharray="2.6 3.75"/>
<path d="M63.90 1302.53 L65.40 1301.46 L66.90 1300.40 L68.40 1299.35 L69.90 1298.31 L71.40 1297.28 L72.90 1296.26 L74.40 1295.25 L75.90 1294.24 L77.40 1293.25 L78.91 1292.27 L80.41 1291.30 L81.91 1290.35 L83.41 1289.40 L84.91 1288.47 L86.41 1287.55 L87.91 1286.64 L89.41 1285.75 L90.91 1284.87 L92.41 1284.01 L93.91 1283.15 L95.41 1282.32 L96.91 1281.50 L98.41 1280.69 L99.91 1279.90 L101.41 1279.13 L102.91 1278.37 L104.41 1277.63 L105.91 1276.91 L107.41 1276.20 L108.92 1275.51 L110.42 1274.85 L111.92 1274.20 L113.42 1273.57 L114.92 1272.96 L116.42 1272.37 L117.92 1271.80 L119.42 1271.25 L120.92 1270.73 L122.42 1270.22 L123.92 1269.74 L125.42 1269.28 L126.92 1268.84 L128.42 1268.43 L129.92 1268.03 L131.42 1267.67 L132.92 1267.32 L134.42 1267.00 L135.92 1266.71 L137.42 1266.44 L138.93 1266.19 L140.43 1265.97 L141.93 1265.77 L143.43 1265.60 L144.93 1265.45 L146.43 1265.33 L147.93 1265.24 L149.43 1265.17 L150.93 1265.12 L152.43 1265.10 L153.93 1265.10 L155.43 1265.13 L156.93 1265.19 L158.43 1265.27 L159.93 1265.37 L161.43 1265.50 L162.93 1265.66 L164.43 1265.83 L165.93 1266.03 L167.43 1266.26 L168.94 1266.51 L170.44 1266.78 L171.94 1267.07 L173.44 1267.39 L174.94 1267.73 L176.44 1268.09 L177.94 1268.47 L179.44 1268.87 L180.94 1269.29 L182.44 1269.73 L183.94 1270.20 L185.44 1270.68 L186.94 1271.18 L188.44 1271.70 L189.94 1272.24 L191.44 1272.79 L192.94 1273.36 L194.44 1273.95 L195.94 1274.56 L197.44 1275.18 L198.95 1275.82 L200.45 1276.48 L201.95 1277.14 L203.45 1277.83 L204.95 1278.53 L206.45 1279.24 L207.95 1279.96 L209.45 1280.70 L210.95 1281.46 L212.45 1282.22 L213.95 1283.00 L215.45 1283.79 L216.95 1284.59 L218.45 1285.40 L219.95 1286.22 L221.45 1287.06 L222.95 1287.90 L224.45 1288.75 L225.95 1289.62 L227.45 1290.49 L228.96 1291.38 L230.46 1292.27 L231.96 1293.17 L233.46 1294.08 L234.96 1295.00 L236.46 1295.92 L237.96 1296.86 L239.46 1297.80 L240.96 1298.75 L242.46 1299.70 L243.96 1300.67 L245.46 1301.64 L246.96 1302.62 L248.46 1303.60 L249.96 1304.59 L251.46 1305.59 L252.96 1306.59 L254.46 1307.60 L255.96 1308.61 L257.46 1309.63 L258.97 1310.66 L260.47 1311.69 L261.97 1312.73 L263.47 1313.77 L264.97 1314.81 L266.47 1315.86 L267.97 1316.92 L269.47 1317.98 L270.97 1319.04 L272.47 1320.11 L273.97 1321.19 L275.47 1322.26 L276.97 1323.34 L278.47 1324.43 L279.97 1325.52 L281.47 1326.61 L282.97 1327.71 L284.47 1328.81 L285.97 1329.91 L287.47 1331.01 L288.98 1332.12 L290.48 1333.24 L291.98 1334.35 L293.48 1335.47 L294.98 1336.59 L296.48 1337.72 L297.98 1338.85 L299.48 1339.98 L300.98 1341.11 L302.48 1342.25 L303.98 1343.39 L305.48 1344.53 L306.98 1345.67 L308.48 1346.82 L309.98 1347.97 L311.48 1349.12 L312.98 1350.27 L314.48 1351.43 L315.98 1352.58 L317.48 1353.74 L318.99 1354.91 L320.49 1356.07 L321.99 1357.24 L323.49 1358.40 L324.99 1359.57 L326.49 1360.74 L327.99 1361.92 L329.49 1363.09 L330.99 1364.27 L332.49 1365.45 L333.99 1366.63 L335.49 1367.81 L336.99 1369.00 L338.49 1370.18 L339.99 1371.37 L341.49 1372.56 L342.99 1373.75 L344.49 1374.94 L345.99 1376.13 L347.49 1377.33 L349.00 1378.52 L350.50 1379.72 L352.00 1380.92 L353.50 1382.12 L355.00 1383.32 L356.50 1384.52 L358.00 1385.72 L359.50 1386.93 L361.00 1388.13 L362.50 1389.34" fill="none" stroke="#4a4a4a" stroke-width="1" stroke-dasharray="2.6 3.75"/>
</g>
<clipPath id="c5"><rect x="421.5" y="33.7" width="297.6" height="224.0"/></clipPath>
<rect x="421.5" y="33.7" width="297.6" height="224.0" fill="none" stroke="#7c7c7c" stroke-width="1"/>
<path d="M418.00 33.7H421.5M719.1 257.7V261.00" stroke="#7c7c7c" stroke-width="1" fill="none"/>
<text x="416.60" y="260.00" text-anchor="end" class="tl">0.05</text>
<text x="416.60" y="204.00" text-anchor="end" class="tl">0.1</text>
<text x="416.60" y="148.00" text-anchor="end" class="tl">0.15</text>
<text x="416.60" y="92.00" text-anchor="end" class="tl">0.2</text>
<text x="416.60" y="36.00" text-anchor="end" class="tl">0.25</text>
<text x="425.26" y="268.40" text-anchor="middle" class="tl">0.001</text>
<text x="487.63" y="268.40" text-anchor="middle" class="tl">0.003</text>
<text x="553.77" y="268.40" text-anchor="middle" class="tl">0.005</text>
<text x="619.90" y="268.40" text-anchor="middle" class="tl">0.007</text>
<text x="686.03" y="268.40" text-anchor="middle" class="tl">0.009</text>
<path d="M418.00 257.70H421.5M418.00 201.70H421.5M418.00 145.70H421.5M418.00 89.70H421.5M418.00 33.70H421.5M419.30 229.70H421.5M419.30 173.70H421.5M419.30 117.70H421.5M419.30 61.70H421.5M421.50 257.7V261.00M487.63 257.7V261.00M553.77 257.7V261.00M619.90 257.7V261.00M686.03 257.7V261.00" stroke="#7c7c7c" stroke-width="1" fill="none"/>
<g clip-path="url(#c5)"><polygon points="552.80,220.40 562.60,225.00 552.80,229.60" fill="#f282c2"/><polygon points="510.50,227.50 515.25,236.90 505.75,236.90" fill="#3c7dc0"/><polygon points="594.10,234.80 598.85,244.20 589.35,244.20" fill="#a244c2"/><rect x="448.05" y="212.75" width="9.90" height="5.70" fill="#98b11f"/><circle cx="431.80" cy="202.00" r="4.70" fill="#223e8e"/><polygon points="515.70,166.00 520.50,170.80 515.70,175.60 510.90,170.80" fill="#f07d00"/><polygon points="682.45,105.95 691.95,105.95 687.20,115.25" fill="#4db81b"/><polygon points="435.10,220.65 435.10,230.35 425.10,225.50" fill="#c0561c"/><rect x="427.00" y="220.65" width="6.20" height="9.70" fill="#80dc92"/><circle cx="674.30" cy="43.80" r="4.70" fill="#d8261b"/>
<line x1="421.5" y1="232.90" x2="719.1" y2="103.00" stroke="#262626" stroke-width="1.2"/>
<path d="M421.50 165.99 L423.00 165.87 L424.49 165.75 L425.99 165.62 L427.48 165.49 L428.98 165.36 L430.47 165.22 L431.97 165.08 L433.46 164.93 L434.96 164.78 L436.45 164.62 L437.95 164.46 L439.45 164.30 L440.94 164.13 L442.44 163.95 L443.93 163.77 L445.43 163.59 L446.92 163.40 L448.42 163.20 L449.91 163.00 L451.41 162.79 L452.91 162.57 L454.40 162.35 L455.90 162.13 L457.39 161.89 L458.89 161.65 L460.38 161.41 L461.88 161.16 L463.37 160.90 L464.87 160.63 L466.36 160.35 L467.86 160.07 L469.36 159.78 L470.85 159.49 L472.35 159.18 L473.84 158.87 L475.34 158.55 L476.83 158.22 L478.33 157.88 L479.82 157.53 L481.32 157.17 L482.81 156.81 L484.31 156.43 L485.81 156.05 L487.30 155.66 L488.80 155.25 L490.29 154.84 L491.79 154.42 L493.28 153.98 L494.78 153.54 L496.27 153.09 L497.77 152.62 L499.26 152.15 L500.76 151.66 L502.26 151.16 L503.75 150.65 L505.25 150.13 L506.74 149.60 L508.24 149.06 L509.73 148.51 L511.23 147.94 L512.72 147.37 L514.22 146.78 L515.72 146.18 L517.21 145.57 L518.71 144.95 L520.20 144.31 L521.70 143.67 L523.19 143.01 L524.69 142.34 L526.18 141.66 L527.68 140.96 L529.17 140.26 L530.67 139.54 L532.17 138.81 L533.66 138.07 L535.16 137.32 L536.65 136.56 L538.15 135.78 L539.64 135.00 L541.14 134.20 L542.63 133.39 L544.13 132.58 L545.62 131.75 L547.12 130.91 L548.62 130.06 L550.11 129.20 L551.61 128.33 L553.10 127.44 L554.60 126.55 L556.09 125.65 L557.59 124.74 L559.08 123.82 L560.58 122.89 L562.07 121.95 L563.57 121.00 L565.07 120.05 L566.56 119.08 L568.06 118.11 L569.55 117.13 L571.05 116.14 L572.54 115.14 L574.04 114.13 L575.53 113.12 L577.03 112.09 L578.53 111.06 L580.02 110.03 L581.52 108.98 L583.01 107.93 L584.51 106.88 L586.00 105.81 L587.50 104.74 L588.99 103.66 L590.49 102.58 L591.98 101.49 L593.48 100.40 L594.98 99.30 L596.47 98.19 L597.97 97.08 L599.46 95.96 L600.96 94.84 L602.45 93.71 L603.95 92.58 L605.44 91.44 L606.94 90.30 L608.43 89.15 L609.93 88.00 L611.43 86.84 L612.92 85.68 L614.42 84.51 L615.91 83.34 L617.41 82.17 L618.90 80.99 L620.40 79.81 L621.89 78.63 L623.39 77.44 L624.88 76.25 L626.38 75.05 L627.88 73.85 L629.37 72.65 L630.87 71.45 L632.36 70.24 L633.86 69.03 L635.35 67.81 L636.85 66.59 L638.34 65.37 L639.84 64.15 L641.34 62.92 L642.83 61.70 L644.33 60.46 L645.82 59.23 L647.32 57.99 L648.81 56.75 L650.31 55.51 L651.80 54.27 L653.30 53.02 L654.79 51.78 L656.29 50.53 L657.79 49.27 L659.28 48.02 L660.78 46.76 L662.27 45.50 L663.77 44.24 L665.26 42.98 L666.76 41.72 L668.25 40.45 L669.75 39.18 L671.24 37.91 L672.74 36.64 L674.24 35.37 L675.73 34.09 L677.23 32.82 L678.72 31.54 L680.22 30.26 L681.71 28.98 L683.21 27.69 L684.70 26.41 L686.20 25.13 L687.69 23.84 L689.19 22.55 L690.69 21.26 L692.18 19.97 L693.68 18.68 L695.17 17.39 L696.67 16.09 L698.16 14.80 L699.66 13.50 L701.15 12.20 L702.65 10.90 L704.15 9.60 L705.64 8.30 L707.14 7.00 L708.63 5.69 L710.13 4.39 L711.62 3.08 L713.12 1.78 L714.61 0.47 L716.11 -0.84 L717.60 -2.15 L719.10 -3.46" fill="none" stroke="#4a4a4a" stroke-width="1" stroke-dasharray="2.6 3.75"/>
<path d="M421.50 298.71 L423.00 297.53 L424.49 296.35 L425.99 295.17 L427.48 294.00 L428.98 292.83 L430.47 291.67 L431.97 290.51 L433.46 289.35 L434.96 288.20 L436.45 287.06 L437.95 285.91 L439.45 284.78 L440.94 283.65 L442.44 282.52 L443.93 281.40 L445.43 280.28 L446.92 279.17 L448.42 278.06 L449.91 276.96 L451.41 275.87 L452.91 274.78 L454.40 273.70 L455.90 272.62 L457.39 271.55 L458.89 270.49 L460.38 269.44 L461.88 268.39 L463.37 267.34 L464.87 266.31 L466.36 265.28 L467.86 264.26 L469.36 263.25 L470.85 262.24 L472.35 261.25 L473.84 260.26 L475.34 259.28 L476.83 258.30 L478.33 257.34 L479.82 256.39 L481.32 255.44 L482.81 254.50 L484.31 253.58 L485.81 252.66 L487.30 251.75 L488.80 250.85 L490.29 249.96 L491.79 249.08 L493.28 248.21 L494.78 247.35 L496.27 246.50 L497.77 245.67 L499.26 244.84 L500.76 244.02 L502.26 243.22 L503.75 242.42 L505.25 241.64 L506.74 240.87 L508.24 240.11 L509.73 239.36 L511.23 238.62 L512.72 237.90 L514.22 237.18 L515.72 236.48 L517.21 235.79 L518.71 235.11 L520.20 234.44 L521.70 233.79 L523.19 233.14 L524.69 232.51 L526.18 231.89 L527.68 231.28 L529.17 230.68 L530.67 230.10 L532.17 229.52 L533.66 228.96 L535.16 228.41 L536.65 227.87 L538.15 227.34 L539.64 226.83 L541.14 226.32 L542.63 225.82 L544.13 225.34 L545.62 224.87 L547.12 224.41 L548.62 223.95 L550.11 223.51 L551.61 223.08 L553.10 222.66 L554.60 222.25 L556.09 221.85 L557.59 221.46 L559.08 221.07 L560.58 220.70 L562.07 220.34 L563.57 219.98 L565.07 219.64 L566.56 219.30 L568.06 218.97 L569.55 218.65 L571.05 218.34 L572.54 218.04 L574.04 217.74 L575.53 217.45 L577.03 217.17 L578.53 216.90 L580.02 216.63 L581.52 216.38 L583.01 216.12 L584.51 215.88 L586.00 215.64 L587.50 215.41 L588.99 215.18 L590.49 214.97 L591.98 214.75 L593.48 214.55 L594.98 214.34 L596.47 214.15 L597.97 213.96 L599.46 213.77 L600.96 213.59 L602.45 213.42 L603.95 213.25 L605.44 213.09 L606.94 212.93 L608.43 212.77 L609.93 212.62 L611.43 212.48 L612.92 212.33 L614.42 212.20 L615.91 212.06 L617.41 211.93 L618.90 211.81 L620.40 211.69 L621.89 211.57 L623.39 211.46 L624.88 211.35 L626.38 211.24 L627.88 211.14 L629.37 211.04 L630.87 210.94 L632.36 210.85 L633.86 210.75 L635.35 210.67 L636.85 210.58 L638.34 210.50 L639.84 210.42 L641.34 210.35 L642.83 210.27 L644.33 210.20 L645.82 210.13 L647.32 210.07 L648.81 210.00 L650.31 209.94 L651.80 209.88 L653.30 209.83 L654.79 209.77 L656.29 209.72 L657.79 209.67 L659.28 209.63 L660.78 209.58 L662.27 209.54 L663.77 209.49 L665.26 209.45 L666.76 209.42 L668.25 209.38 L669.75 209.35 L671.24 209.31 L672.74 209.28 L674.24 209.25 L675.73 209.23 L677.23 209.20 L678.72 209.18 L680.22 209.15 L681.71 209.13 L683.21 209.11 L684.70 209.09 L686.20 209.08 L687.69 209.06 L689.19 209.05 L690.69 209.03 L692.18 209.02 L693.68 209.01 L695.17 209.00 L696.67 209.00 L698.16 208.99 L699.66 208.98 L701.15 208.98 L702.65 208.98 L704.15 208.97 L705.64 208.97 L707.14 208.97 L708.63 208.97 L710.13 208.98 L711.62 208.98 L713.12 208.98 L714.61 208.99 L716.11 208.99 L717.60 209.00 L719.10 209.01" fill="none" stroke="#4a4a4a" stroke-width="1" stroke-dasharray="2.6 3.75"/>
</g>
<clipPath id="c6"><rect x="421.5" y="291.1" width="297.6" height="224.10000000000002"/></clipPath>
<rect x="421.5" y="291.1" width="297.6" height="224.10000000000002" fill="none" stroke="#7c7c7c" stroke-width="1"/>
<path d="M418.00 291.1H421.5M719.1 515.2V518.50" stroke="#7c7c7c" stroke-width="1" fill="none"/>
<text x="416.60" y="517.50" text-anchor="end" class="tl">0.05</text>
<text x="416.60" y="495.09" text-anchor="end" class="tl">0.06</text>
<text x="416.60" y="472.68" text-anchor="end" class="tl">0.07</text>
<text x="416.60" y="450.27" text-anchor="end" class="tl">0.08</text>
<text x="416.60" y="427.86" text-anchor="end" class="tl">0.09</text>
<text x="416.60" y="405.45" text-anchor="end" class="tl">0.1</text>
<text x="416.60" y="383.04" text-anchor="end" class="tl">0.11</text>
<text x="416.60" y="360.63" text-anchor="end" class="tl">0.12</text>
<text x="416.60" y="338.22" text-anchor="end" class="tl">0.13</text>
<text x="416.60" y="315.81" text-anchor="end" class="tl">0.14</text>
<text x="416.60" y="293.40" text-anchor="end" class="tl">0.15</text>
<text x="425.26" y="525.90" text-anchor="middle" class="tl">0.001</text>
<text x="471.10" y="525.90" text-anchor="middle" class="tl">0.002</text>
<text x="520.70" y="525.90" text-anchor="middle" class="tl">0.003</text>
<text x="570.30" y="525.90" text-anchor="middle" class="tl">0.004</text>
<text x="619.90" y="525.90" text-anchor="middle" class="tl">0.005</text>
<text x="669.50" y="525.90" text-anchor="middle" class="tl">0.006</text>
<text x="716.14" y="525.90" text-anchor="middle" class="tl">0.007</text>
<path d="M418.00 515.20H421.5M418.00 492.79H421.5M418.00 470.38H421.5M418.00 447.97H421.5M418.00 425.56H421.5M418.00 403.15H421.5M418.00 380.74H421.5M418.00 358.33H421.5M418.00 335.92H421.5M418.00 313.51H421.5M418.00 291.10H421.5M421.50 515.2V518.50M471.10 515.2V518.50M520.70 515.2V518.50M570.30 515.2V518.50M619.90 515.2V518.50M669.50 515.2V518.50M719.10 515.2V518.50" stroke="#7c7c7c" stroke-width="1" fill="none"/>
<g clip-path="url(#c6)"><polygon points="564.80,427.70 574.60,432.30 564.80,436.90" fill="#f282c2"/><polygon points="527.60,456.60 532.35,466.00 522.85,466.00" fill="#3c7dc0"/><polygon points="437.60,352.40 442.35,361.80 432.85,361.80" fill="#a244c2"/><rect x="464.45" y="408.55" width="9.90" height="5.70" fill="#98b11f"/><circle cx="618.40" cy="499.70" r="4.70" fill="#223e8e"/><polygon points="563.40,430.20 568.20,435.00 563.40,439.80 558.60,435.00" fill="#f07d00"/><polygon points="714.05,295.35 723.55,295.35 718.80,304.65" fill="#4db81b"/><polygon points="434.30,491.25 434.30,500.95 424.30,496.10" fill="#c0561c"/><rect x="426.20" y="491.25" width="6.20" height="9.70" fill="#80dc92"/><circle cx="693.40" cy="305.90" r="4.70" fill="#d8261b"/>
<line x1="421.5" y1="471.40" x2="719.1" y2="369.20" stroke="#262626" stroke-width="1.2"/>
<path d="M421.50 355.77 L423.00 356.10 L424.49 356.44 L425.99 356.76 L427.48 357.09 L428.98 357.41 L430.47 357.73 L431.97 358.04 L433.46 358.35 L434.96 358.66 L436.45 358.96 L437.95 359.26 L439.45 359.55 L440.94 359.84 L442.44 360.12 L443.93 360.40 L445.43 360.67 L446.92 360.94 L448.42 361.21 L449.91 361.47 L451.41 361.72 L452.91 361.97 L454.40 362.21 L455.90 362.45 L457.39 362.68 L458.89 362.91 L460.38 363.13 L461.88 363.34 L463.37 363.55 L464.87 363.75 L466.36 363.94 L467.86 364.13 L469.36 364.31 L470.85 364.48 L472.35 364.65 L473.84 364.80 L475.34 364.95 L476.83 365.10 L478.33 365.23 L479.82 365.36 L481.32 365.48 L482.81 365.59 L484.31 365.69 L485.81 365.78 L487.30 365.86 L488.80 365.94 L490.29 366.00 L491.79 366.06 L493.28 366.10 L494.78 366.14 L496.27 366.16 L497.77 366.18 L499.26 366.18 L500.76 366.17 L502.26 366.16 L503.75 366.13 L505.25 366.08 L506.74 366.03 L508.24 365.97 L509.73 365.89 L511.23 365.80 L512.72 365.70 L514.22 365.58 L515.72 365.45 L517.21 365.31 L518.71 365.16 L520.20 364.99 L521.70 364.81 L523.19 364.61 L524.69 364.40 L526.18 364.18 L527.68 363.94 L529.17 363.68 L530.67 363.41 L532.17 363.13 L533.66 362.83 L535.16 362.52 L536.65 362.19 L538.15 361.84 L539.64 361.48 L541.14 361.10 L542.63 360.71 L544.13 360.30 L545.62 359.88 L547.12 359.44 L548.62 358.98 L550.11 358.51 L551.61 358.02 L553.10 357.51 L554.60 356.99 L556.09 356.45 L557.59 355.90 L559.08 355.33 L560.58 354.74 L562.07 354.14 L563.57 353.52 L565.07 352.89 L566.56 352.24 L568.06 351.57 L569.55 350.89 L571.05 350.19 L572.54 349.48 L574.04 348.75 L575.53 348.01 L577.03 347.25 L578.53 346.48 L580.02 345.69 L581.52 344.89 L583.01 344.08 L584.51 343.24 L586.00 342.40 L587.50 341.54 L588.99 340.67 L590.49 339.79 L591.98 338.89 L593.48 337.98 L594.98 337.05 L596.47 336.12 L597.97 335.17 L599.46 334.21 L600.96 333.23 L602.45 332.25 L603.95 331.25 L605.44 330.24 L606.94 329.23 L608.43 328.20 L609.93 327.16 L611.43 326.11 L612.92 325.04 L614.42 323.97 L615.91 322.89 L617.41 321.80 L618.90 320.70 L620.40 319.59 L621.89 318.48 L623.39 317.35 L624.88 316.21 L626.38 315.07 L627.88 313.92 L629.37 312.76 L630.87 311.59 L632.36 310.41 L633.86 309.23 L635.35 308.04 L636.85 306.84 L638.34 305.64 L639.84 304.42 L641.34 303.20 L642.83 301.98 L644.33 300.75 L645.82 299.51 L647.32 298.26 L648.81 297.01 L650.31 295.76 L651.80 294.50 L653.30 293.23 L654.79 291.96 L656.29 290.68 L657.79 289.39 L659.28 288.10 L660.78 286.81 L662.27 285.51 L663.77 284.21 L665.26 282.90 L666.76 281.59 L668.25 280.27 L669.75 278.95 L671.24 277.62 L672.74 276.29 L674.24 274.96 L675.73 273.62 L677.23 272.28 L678.72 270.93 L680.22 269.58 L681.71 268.23 L683.21 266.87 L684.70 265.51 L686.20 264.15 L687.69 262.78 L689.19 261.41 L690.69 260.03 L692.18 258.66 L693.68 257.28 L695.17 255.89 L696.67 254.51 L698.16 253.12 L699.66 251.73 L701.15 250.33 L702.65 248.94 L704.15 247.54 L705.64 246.13 L707.14 244.73 L708.63 243.32 L710.13 241.91 L711.62 240.50 L713.12 239.09 L714.61 237.67 L716.11 236.25 L717.60 234.83 L719.10 233.41" fill="none" stroke="#4a4a4a" stroke-width="1" stroke-dasharray="2.6 3.75"/>
<path d="M421.50 587.50 L423.00 586.14 L424.49 584.78 L425.99 583.43 L427.48 582.08 L428.98 580.73 L430.47 579.39 L431.97 578.06 L433.46 576.72 L434.96 575.39 L436.45 574.07 L437.95 572.75 L439.45 571.43 L440.94 570.12 L442.44 568.81 L443.93 567.51 L445.43 566.21 L446.92 564.92 L448.42 563.63 L449.91 562.35 L451.41 561.07 L452.91 559.80 L454.40 558.53 L455.90 557.27 L457.39 556.01 L458.89 554.76 L460.38 553.52 L461.88 552.28 L463.37 551.05 L464.87 549.83 L466.36 548.61 L467.86 547.40 L469.36 546.20 L470.85 545.00 L472.35 543.81 L473.84 542.63 L475.34 541.45 L476.83 540.29 L478.33 539.13 L479.82 537.98 L481.32 536.84 L482.81 535.70 L484.31 534.58 L485.81 533.46 L487.30 532.35 L488.80 531.26 L490.29 530.17 L491.79 529.09 L493.28 528.02 L494.78 526.96 L496.27 525.91 L497.77 524.87 L499.26 523.85 L500.76 522.83 L502.26 521.83 L503.75 520.83 L505.25 519.85 L506.74 518.88 L508.24 517.92 L509.73 516.97 L511.23 516.04 L512.72 515.12 L514.22 514.21 L515.72 513.31 L517.21 512.43 L518.71 511.56 L520.20 510.71 L521.70 509.86 L523.19 509.04 L524.69 508.22 L526.18 507.42 L527.68 506.64 L529.17 505.87 L530.67 505.11 L532.17 504.37 L533.66 503.65 L535.16 502.94 L536.65 502.25 L538.15 501.57 L539.64 500.90 L541.14 500.26 L542.63 499.63 L544.13 499.01 L545.62 498.41 L547.12 497.83 L548.62 497.26 L550.11 496.71 L551.61 496.18 L553.10 495.66 L554.60 495.16 L556.09 494.67 L557.59 494.20 L559.08 493.75 L560.58 493.31 L562.07 492.89 L563.57 492.48 L565.07 492.09 L566.56 491.72 L568.06 491.36 L569.55 491.02 L571.05 490.69 L572.54 490.38 L574.04 490.08 L575.53 489.80 L577.03 489.54 L578.53 489.29 L580.02 489.05 L581.52 488.83 L583.01 488.62 L584.51 488.43 L586.00 488.25 L587.50 488.08 L588.99 487.93 L590.49 487.79 L591.98 487.67 L593.48 487.55 L594.98 487.45 L596.47 487.37 L597.97 487.29 L599.46 487.23 L600.96 487.18 L602.45 487.14 L603.95 487.11 L605.44 487.10 L606.94 487.09 L608.43 487.10 L609.93 487.11 L611.43 487.14 L612.92 487.18 L614.42 487.22 L615.91 487.28 L617.41 487.35 L618.90 487.42 L620.40 487.51 L621.89 487.60 L623.39 487.70 L624.88 487.82 L626.38 487.94 L627.88 488.06 L629.37 488.20 L630.87 488.35 L632.36 488.50 L633.86 488.66 L635.35 488.82 L636.85 489.00 L638.34 489.18 L639.84 489.37 L641.34 489.56 L642.83 489.77 L644.33 489.97 L645.82 490.19 L647.32 490.41 L648.81 490.64 L650.31 490.87 L651.80 491.11 L653.30 491.35 L654.79 491.60 L656.29 491.85 L657.79 492.11 L659.28 492.38 L660.78 492.65 L662.27 492.92 L663.77 493.20 L665.26 493.49 L666.76 493.78 L668.25 494.07 L669.75 494.37 L671.24 494.67 L672.74 494.98 L674.24 495.29 L675.73 495.60 L677.23 495.92 L678.72 496.24 L680.22 496.57 L681.71 496.90 L683.21 497.23 L684.70 497.57 L686.20 497.91 L687.69 498.25 L689.19 498.60 L690.69 498.95 L692.18 499.30 L693.68 499.66 L695.17 500.02 L696.67 500.38 L698.16 500.75 L699.66 501.11 L701.15 501.48 L702.65 501.86 L704.15 502.23 L705.64 502.61 L707.14 502.99 L708.63 503.38 L710.13 503.76 L711.62 504.15 L713.12 504.54 L714.61 504.93 L716.11 505.33 L717.60 505.73 L719.10 506.13" fill="none" stroke="#4a4a4a" stroke-width="1" stroke-dasharray="2.6 3.75"/>
</g>
<clipPath id="c7"><rect x="421.5" y="553.7" width="297.6" height="224.0"/></clipPath>
<rect x="421.5" y="553.7" width="297.6" height="224.0" fill="none" stroke="#7c7c7c" stroke-width="1"/>
<path d="M418.00 553.7H421.5M719.1 777.7V781.00" stroke="#7c7c7c" stroke-width="1" fill="none"/>
<text x="416.60" y="780.00" text-anchor="end" class="tl">0.05</text>
<text x="416.60" y="724.00" text-anchor="end" class="tl">0.1</text>
<text x="416.60" y="668.00" text-anchor="end" class="tl">0.15</text>
<text x="416.60" y="612.00" text-anchor="end" class="tl">0.2</text>
<text x="416.60" y="556.00" text-anchor="end" class="tl">0.25</text>
<text x="425.26" y="788.40" text-anchor="middle" class="tl">0.001</text>
<text x="495.90" y="788.40" text-anchor="middle" class="tl">0.003</text>
<text x="570.30" y="788.40" text-anchor="middle" class="tl">0.005</text>
<text x="644.70" y="788.40" text-anchor="middle" class="tl">0.007</text>
<text x="716.14" y="788.40" text-anchor="middle" class="tl">0.009</text>
<path d="M418.00 777.70H421.5M418.00 721.70H421.5M418.00 665.70H421.5M418.00 609.70H421.5M418.00 553.70H421.5M419.30 749.70H421.5M419.30 693.70H421.5M419.30 637.70H421.5M419.30 581.70H421.5M421.50 777.7V781.00M495.90 777.7V781.00M570.30 777.7V781.00M644.70 777.7V781.00M719.10 777.7V781.00" stroke="#7c7c7c" stroke-width="1" fill="none"/>
<g clip-path="url(#c7)"><polygon points="567.40,746.10 577.20,750.70 567.40,755.30" fill="#f282c2"/><polygon points="521.80,744.50 526.55,753.90 517.05,753.90" fill="#3c7dc0"/><polygon points="606.50,755.70 611.25,765.10 601.75,765.10" fill="#a244c2"/><rect x="454.85" y="735.25" width="9.90" height="5.70" fill="#98b11f"/><circle cx="437.60" cy="714.90" r="4.70" fill="#223e8e"/><polygon points="550.00,723.40 554.80,728.20 550.00,733.00 545.20,728.20" fill="#f07d00"/><polygon points="692.95,622.15 702.45,622.15 697.70,631.45" fill="#4db81b"/><polygon points="436.10,733.75 436.10,743.45 426.10,738.60" fill="#c0561c"/><rect x="428.00" y="733.75" width="6.20" height="9.70" fill="#80dc92"/><circle cx="687.70" cy="566.00" r="4.70" fill="#d8261b"/>
<line x1="421.5" y1="753.10" x2="719.1" y2="638.40" stroke="#262626" stroke-width="1.0"/>
<path d="M421.50 681.25 L423.00 681.21 L424.49 681.16 L425.99 681.12 L427.48 681.07 L428.98 681.01 L430.47 680.95 L431.97 680.89 L433.46 680.83 L434.96 680.76 L436.45 680.68 L437.95 680.60 L439.45 680.52 L440.94 680.43 L442.44 680.34 L443.93 680.25 L445.43 680.15 L446.92 680.04 L448.42 679.93 L449.91 679.81 L451.41 679.69 L452.91 679.57 L454.40 679.43 L455.90 679.30 L457.39 679.15 L458.89 679.01 L460.38 678.85 L461.88 678.69 L463.37 678.52 L464.87 678.35 L466.36 678.17 L467.86 677.99 L469.36 677.79 L470.85 677.59 L472.35 677.39 L473.84 677.17 L475.34 676.95 L476.83 676.72 L478.33 676.49 L479.82 676.24 L481.32 675.99 L482.81 675.73 L484.31 675.47 L485.81 675.19 L487.30 674.91 L488.80 674.62 L490.29 674.32 L491.79 674.01 L493.28 673.69 L494.78 673.36 L496.27 673.02 L497.77 672.68 L499.26 672.32 L500.76 671.96 L502.26 671.58 L503.75 671.20 L505.25 670.80 L506.74 670.40 L508.24 669.98 L509.73 669.56 L511.23 669.13 L512.72 668.68 L514.22 668.22 L515.72 667.76 L517.21 667.28 L518.71 666.80 L520.20 666.30 L521.70 665.79 L523.19 665.27 L524.69 664.74 L526.18 664.20 L527.68 663.65 L529.17 663.08 L530.67 662.51 L532.17 661.93 L533.66 661.33 L535.16 660.72 L536.65 660.11 L538.15 659.48 L539.64 658.84 L541.14 658.19 L542.63 657.53 L544.13 656.86 L545.62 656.18 L547.12 655.49 L548.62 654.79 L550.11 654.08 L551.61 653.35 L553.10 652.62 L554.60 651.88 L556.09 651.13 L557.59 650.37 L559.08 649.59 L560.58 648.81 L562.07 648.02 L563.57 647.22 L565.07 646.41 L566.56 645.60 L568.06 644.77 L569.55 643.93 L571.05 643.09 L572.54 642.24 L574.04 641.38 L575.53 640.51 L577.03 639.63 L578.53 638.74 L580.02 637.85 L581.52 636.95 L583.01 636.04 L584.51 635.13 L586.00 634.20 L587.50 633.27 L588.99 632.34 L590.49 631.39 L591.98 630.44 L593.48 629.48 L594.98 628.52 L596.47 627.55 L597.97 626.57 L599.46 625.59 L600.96 624.60 L602.45 623.61 L603.95 622.61 L605.44 621.61 L606.94 620.60 L608.43 619.58 L609.93 618.56 L611.43 617.53 L612.92 616.50 L614.42 615.47 L615.91 614.43 L617.41 613.38 L618.90 612.33 L620.40 611.28 L621.89 610.22 L623.39 609.16 L624.88 608.09 L626.38 607.02 L627.88 605.94 L629.37 604.86 L630.87 603.78 L632.36 602.69 L633.86 601.60 L635.35 600.51 L636.85 599.41 L638.34 598.31 L639.84 597.21 L641.34 596.10 L642.83 594.99 L644.33 593.88 L645.82 592.76 L647.32 591.64 L648.81 590.52 L650.31 589.40 L651.80 588.27 L653.30 587.14 L654.79 586.01 L656.29 584.87 L657.79 583.73 L659.28 582.59 L660.78 581.45 L662.27 580.30 L663.77 579.16 L665.26 578.01 L666.76 576.85 L668.25 575.70 L669.75 574.54 L671.24 573.38 L672.74 572.22 L674.24 571.06 L675.73 569.90 L677.23 568.73 L678.72 567.56 L680.22 566.39 L681.71 565.22 L683.21 564.04 L684.70 562.87 L686.20 561.69 L687.69 560.51 L689.19 559.33 L690.69 558.15 L692.18 556.97 L693.68 555.78 L695.17 554.59 L696.67 553.41 L698.16 552.22 L699.66 551.02 L701.15 549.83 L702.65 548.64 L704.15 547.44 L705.64 546.25 L707.14 545.05 L708.63 543.85 L710.13 542.65 L711.62 541.45 L713.12 540.25 L714.61 539.04 L716.11 537.84 L717.60 536.63 L719.10 535.42" fill="none" stroke="#4a4a4a" stroke-width="1" stroke-dasharray="2.6 3.75"/>
<path d="M421.50 822.58 L423.00 821.49 L424.49 820.39 L425.99 819.30 L427.48 818.22 L428.98 817.13 L430.47 816.05 L431.97 814.98 L433.46 813.91 L434.96 812.84 L436.45 811.78 L437.95 810.72 L439.45 809.66 L440.94 808.61 L442.44 807.57 L443.93 806.53 L445.43 805.49 L446.92 804.46 L448.42 803.43 L449.91 802.41 L451.41 801.40 L452.91 800.38 L454.40 799.38 L455.90 798.38 L457.39 797.38 L458.89 796.40 L460.38 795.41 L461.88 794.44 L463.37 793.47 L464.87 792.50 L466.36 791.55 L467.86 790.59 L469.36 789.65 L470.85 788.71 L472.35 787.78 L473.84 786.86 L475.34 785.94 L476.83 785.03 L478.33 784.13 L479.82 783.24 L481.32 782.35 L482.81 781.47 L484.31 780.60 L485.81 779.74 L487.30 778.89 L488.80 778.04 L490.29 777.21 L491.79 776.38 L493.28 775.56 L494.78 774.75 L496.27 773.95 L497.77 773.16 L499.26 772.38 L500.76 771.61 L502.26 770.84 L503.75 770.09 L505.25 769.35 L506.74 768.62 L508.24 767.89 L509.73 767.18 L511.23 766.48 L512.72 765.79 L514.22 765.10 L515.72 764.43 L517.21 763.77 L518.71 763.12 L520.20 762.48 L521.70 761.85 L523.19 761.24 L524.69 760.63 L526.18 760.03 L527.68 759.45 L529.17 758.87 L530.67 758.31 L532.17 757.76 L533.66 757.22 L535.16 756.68 L536.65 756.16 L538.15 755.65 L539.64 755.16 L541.14 754.67 L542.63 754.19 L544.13 753.72 L545.62 753.27 L547.12 752.82 L548.62 752.39 L550.11 751.96 L551.61 751.55 L553.10 751.14 L554.60 750.75 L556.09 750.36 L557.59 749.99 L559.08 749.62 L560.58 749.26 L562.07 748.92 L563.57 748.58 L565.07 748.25 L566.56 747.93 L568.06 747.62 L569.55 747.32 L571.05 747.03 L572.54 746.74 L574.04 746.47 L575.53 746.20 L577.03 745.94 L578.53 745.69 L580.02 745.44 L581.52 745.21 L583.01 744.98 L584.51 744.76 L586.00 744.54 L587.50 744.34 L588.99 744.14 L590.49 743.94 L591.98 743.76 L593.48 743.58 L594.98 743.40 L596.47 743.24 L597.97 743.07 L599.46 742.92 L600.96 742.77 L602.45 742.63 L603.95 742.49 L605.44 742.36 L606.94 742.23 L608.43 742.11 L609.93 741.99 L611.43 741.88 L612.92 741.78 L614.42 741.67 L615.91 741.58 L617.41 741.49 L618.90 741.40 L620.40 741.32 L621.89 741.24 L623.39 741.16 L624.88 741.09 L626.38 741.03 L627.88 740.96 L629.37 740.91 L630.87 740.85 L632.36 740.80 L633.86 740.75 L635.35 740.71 L636.85 740.67 L638.34 740.63 L639.84 740.60 L641.34 740.57 L642.83 740.54 L644.33 740.52 L645.82 740.50 L647.32 740.48 L648.81 740.46 L650.31 740.45 L651.80 740.44 L653.30 740.44 L654.79 740.43 L656.29 740.43 L657.79 740.43 L659.28 740.43 L660.78 740.44 L662.27 740.45 L663.77 740.46 L665.26 740.47 L666.76 740.49 L668.25 740.51 L669.75 740.52 L671.24 740.55 L672.74 740.57 L674.24 740.60 L675.73 740.62 L677.23 740.65 L678.72 740.68 L680.22 740.72 L681.71 740.75 L683.21 740.79 L684.70 740.83 L686.20 740.87 L687.69 740.91 L689.19 740.95 L690.69 741.00 L692.18 741.04 L693.68 741.09 L695.17 741.14 L696.67 741.19 L698.16 741.25 L699.66 741.30 L701.15 741.36 L702.65 741.41 L704.15 741.47 L705.64 741.53 L707.14 741.59 L708.63 741.65 L710.13 741.71 L711.62 741.78 L713.12 741.84 L714.61 741.91 L716.11 741.98 L717.60 742.05 L719.10 742.12" fill="none" stroke="#4a4a4a" stroke-width="1" stroke-dasharray="2.6 3.75"/>
</g>
<clipPath id="c8"><rect x="425.5" y="818.1" width="297.6" height="224.19999999999993"/></clipPath>
<rect x="425.5" y="818.1" width="297.6" height="224.19999999999993" fill="none" stroke="#7c7c7c" stroke-width="1"/>
<path d="M422.00 818.1H425.5M723.1 1042.3V1045.60" stroke="#7c7c7c" stroke-width="1" fill="none"/>
<text x="420.60" y="1044.60" text-anchor="end" class="tl">0.05</text>
<text x="420.60" y="1007.23" text-anchor="end" class="tl">0.075</text>
<text x="420.60" y="969.87" text-anchor="end" class="tl">0.1</text>
<text x="420.60" y="932.50" text-anchor="end" class="tl">0.125</text>
<text x="420.60" y="895.13" text-anchor="end" class="tl">0.15</text>
<text x="420.60" y="857.77" text-anchor="end" class="tl">0.175</text>
<text x="420.60" y="820.40" text-anchor="end" class="tl">0.2</text>
<text x="429.26" y="1053.00" text-anchor="middle" class="tl">0.001</text>
<text x="499.90" y="1053.00" text-anchor="middle" class="tl">0.003</text>
<text x="574.30" y="1053.00" text-anchor="middle" class="tl">0.005</text>
<text x="648.70" y="1053.00" text-anchor="middle" class="tl">0.007</text>
<text x="720.14" y="1053.00" text-anchor="middle" class="tl">0.009</text>
<path d="M422.00 1042.30H425.5M422.00 1004.93H425.5M422.00 967.57H425.5M422.00 930.20H425.5M422.00 892.83H425.5M422.00 855.47H425.5M422.00 818.10H425.5M425.50 1042.3V1045.60M499.90 1042.3V1045.60M574.30 1042.3V1045.60M648.70 1042.3V1045.60M723.10 1042.3V1045.60" stroke="#7c7c7c" stroke-width="1" fill="none"/>
<g clip-path="url(#c8)"><polygon points="567.20,978.50 577.00,983.10 567.20,987.70" fill="#f282c2"/><polygon points="521.10,1003.80 525.85,1013.20 516.35,1013.20" fill="#3c7dc0"/><polygon points="439.50,961.20 444.25,970.60 434.75,970.60" fill="#a244c2"/><rect x="459.25" y="984.25" width="9.90" height="5.70" fill="#98b11f"/><circle cx="608.40" cy="1026.70" r="4.70" fill="#223e8e"/><polygon points="553.00,981.90 557.80,986.70 553.00,991.50 548.20,986.70" fill="#f07d00"/><polygon points="687.55,882.65 697.05,882.65 692.30,891.95" fill="#4db81b"/><polygon points="439.70,1008.65 439.70,1018.35 429.70,1013.50" fill="#c0561c"/><rect x="431.60" y="1008.65" width="6.20" height="9.70" fill="#80dc92"/><circle cx="685.70" cy="831.10" r="4.70" fill="#d8261b"/>
<line x1="425.5" y1="1022.00" x2="723.1" y2="907.50" stroke="#262626" stroke-width="1.2"/>
<path d="M425.50 936.79 L427.00 936.88 L428.49 936.96 L429.99 937.03 L431.48 937.11 L432.98 937.18 L434.47 937.24 L435.97 937.31 L437.46 937.37 L438.96 937.42 L440.45 937.47 L441.95 937.52 L443.45 937.57 L444.94 937.61 L446.44 937.64 L447.93 937.67 L449.43 937.70 L450.92 937.72 L452.42 937.74 L453.91 937.76 L455.41 937.77 L456.91 937.77 L458.40 937.77 L459.90 937.76 L461.39 937.75 L462.89 937.74 L464.38 937.71 L465.88 937.69 L467.37 937.65 L468.87 937.61 L470.36 937.57 L471.86 937.52 L473.36 937.46 L474.85 937.39 L476.35 937.32 L477.84 937.24 L479.34 937.16 L480.83 937.06 L482.33 936.96 L483.82 936.86 L485.32 936.74 L486.81 936.62 L488.31 936.49 L489.81 936.35 L491.30 936.20 L492.80 936.05 L494.29 935.88 L495.79 935.71 L497.28 935.52 L498.78 935.33 L500.27 935.13 L501.77 934.92 L503.26 934.70 L504.76 934.47 L506.26 934.23 L507.75 933.98 L509.25 933.71 L510.74 933.44 L512.24 933.16 L513.73 932.86 L515.23 932.56 L516.72 932.24 L518.22 931.91 L519.72 931.57 L521.21 931.22 L522.71 930.85 L524.20 930.47 L525.70 930.08 L527.19 929.68 L528.69 929.27 L530.18 928.84 L531.68 928.40 L533.17 927.95 L534.67 927.48 L536.17 927.01 L537.66 926.51 L539.16 926.01 L540.65 925.49 L542.15 924.96 L543.64 924.41 L545.14 923.86 L546.63 923.28 L548.13 922.70 L549.62 922.10 L551.12 921.49 L552.62 920.86 L554.11 920.23 L555.61 919.58 L557.10 918.91 L558.60 918.23 L560.09 917.54 L561.59 916.84 L563.08 916.12 L564.58 915.39 L566.07 914.65 L567.57 913.90 L569.07 913.13 L570.56 912.36 L572.06 911.57 L573.55 910.76 L575.05 909.95 L576.54 909.12 L578.04 908.29 L579.53 907.44 L581.03 906.58 L582.53 905.71 L584.02 904.83 L585.52 903.94 L587.01 903.03 L588.51 902.12 L590.00 901.20 L591.50 900.27 L592.99 899.32 L594.49 898.37 L595.98 897.41 L597.48 896.44 L598.98 895.46 L600.47 894.48 L601.97 893.48 L603.46 892.48 L604.96 891.46 L606.45 890.44 L607.95 889.42 L609.44 888.38 L610.94 887.34 L612.43 886.29 L613.93 885.23 L615.43 884.16 L616.92 883.09 L618.42 882.01 L619.91 880.93 L621.41 879.84 L622.90 878.74 L624.40 877.63 L625.89 876.52 L627.39 875.41 L628.88 874.29 L630.38 873.16 L631.88 872.03 L633.37 870.89 L634.87 869.75 L636.36 868.60 L637.86 867.45 L639.35 866.29 L640.85 865.13 L642.34 863.96 L643.84 862.79 L645.34 861.62 L646.83 860.44 L648.33 859.25 L649.82 858.06 L651.32 856.87 L652.81 855.68 L654.31 854.48 L655.80 853.27 L657.30 852.07 L658.79 850.86 L660.29 849.64 L661.79 848.43 L663.28 847.21 L664.78 845.98 L666.27 844.76 L667.77 843.53 L669.26 842.29 L670.76 841.06 L672.25 839.82 L673.75 838.58 L675.24 837.34 L676.74 836.09 L678.24 834.84 L679.73 833.59 L681.23 832.34 L682.72 831.08 L684.22 829.82 L685.71 828.56 L687.21 827.30 L688.70 826.03 L690.20 824.76 L691.69 823.49 L693.19 822.22 L694.69 820.95 L696.18 819.67 L697.68 818.39 L699.17 817.11 L700.67 815.83 L702.16 814.55 L703.66 813.26 L705.15 811.97 L706.65 810.69 L708.15 809.40 L709.64 808.10 L711.14 806.81 L712.63 805.51 L714.13 804.22 L715.62 802.92 L717.12 801.62 L718.61 800.32 L720.11 799.02 L721.60 797.71 L723.10 796.41" fill="none" stroke="#4a4a4a" stroke-width="1" stroke-dasharray="2.6 3.75"/>
<path d="M425.50 1105.40 L427.00 1104.18 L428.49 1102.95 L429.99 1101.73 L431.48 1100.52 L432.98 1099.30 L434.47 1098.09 L435.97 1096.89 L437.46 1095.68 L438.96 1094.48 L440.45 1093.29 L441.95 1092.09 L443.45 1090.91 L444.94 1089.72 L446.44 1088.54 L447.93 1087.37 L449.43 1086.20 L450.92 1085.03 L452.42 1083.87 L453.91 1082.71 L455.41 1081.56 L456.91 1080.41 L458.40 1079.27 L459.90 1078.13 L461.39 1077.00 L462.89 1075.87 L464.38 1074.75 L465.88 1073.63 L467.37 1072.52 L468.87 1071.42 L470.36 1070.32 L471.86 1069.23 L473.36 1068.14 L474.85 1067.06 L476.35 1065.99 L477.84 1064.93 L479.34 1063.87 L480.83 1062.82 L482.33 1061.77 L483.82 1060.74 L485.32 1059.71 L486.81 1058.69 L488.31 1057.67 L489.81 1056.67 L491.30 1055.67 L492.80 1054.68 L494.29 1053.71 L495.79 1052.74 L497.28 1051.77 L498.78 1050.82 L500.27 1049.88 L501.77 1048.95 L503.26 1048.03 L504.76 1047.11 L506.26 1046.21 L507.75 1045.32 L509.25 1044.44 L510.74 1043.57 L512.24 1042.71 L513.73 1041.86 L515.23 1041.02 L516.72 1040.19 L518.22 1039.38 L519.72 1038.58 L521.21 1037.78 L522.71 1037.01 L524.20 1036.24 L525.70 1035.48 L527.19 1034.74 L528.69 1034.01 L530.18 1033.30 L531.68 1032.59 L533.17 1031.90 L534.67 1031.22 L536.17 1030.56 L537.66 1029.91 L539.16 1029.27 L540.65 1028.64 L542.15 1028.03 L543.64 1027.43 L545.14 1026.85 L546.63 1026.27 L548.13 1025.71 L549.62 1025.17 L551.12 1024.64 L552.62 1024.12 L554.11 1023.61 L555.61 1023.12 L557.10 1022.64 L558.60 1022.17 L560.09 1021.72 L561.59 1021.28 L563.08 1020.85 L564.58 1020.44 L566.07 1020.04 L567.57 1019.65 L569.07 1019.27 L570.56 1018.90 L572.06 1018.55 L573.55 1018.21 L575.05 1017.88 L576.54 1017.56 L578.04 1017.25 L579.53 1016.96 L581.03 1016.67 L582.53 1016.40 L584.02 1016.14 L585.52 1015.89 L587.01 1015.64 L588.51 1015.41 L590.00 1015.19 L591.50 1014.98 L592.99 1014.78 L594.49 1014.59 L595.98 1014.40 L597.48 1014.23 L598.98 1014.06 L600.47 1013.91 L601.97 1013.76 L603.46 1013.62 L604.96 1013.49 L606.45 1013.37 L607.95 1013.25 L609.44 1013.14 L610.94 1013.04 L612.43 1012.95 L613.93 1012.86 L615.43 1012.78 L616.92 1012.71 L618.42 1012.65 L619.91 1012.59 L621.41 1012.54 L622.90 1012.49 L624.40 1012.45 L625.89 1012.42 L627.39 1012.39 L628.88 1012.37 L630.38 1012.35 L631.88 1012.34 L633.37 1012.33 L634.87 1012.33 L636.36 1012.33 L637.86 1012.34 L639.35 1012.36 L640.85 1012.38 L642.34 1012.40 L643.84 1012.43 L645.34 1012.46 L646.83 1012.49 L648.33 1012.53 L649.82 1012.58 L651.32 1012.63 L652.81 1012.68 L654.31 1012.73 L655.80 1012.79 L657.30 1012.86 L658.79 1012.92 L660.29 1012.99 L661.79 1013.07 L663.28 1013.14 L664.78 1013.22 L666.27 1013.30 L667.77 1013.39 L669.26 1013.48 L670.76 1013.57 L672.25 1013.67 L673.75 1013.76 L675.24 1013.86 L676.74 1013.97 L678.24 1014.07 L679.73 1014.18 L681.23 1014.29 L682.72 1014.40 L684.22 1014.52 L685.71 1014.64 L687.21 1014.75 L688.70 1014.88 L690.20 1015.00 L691.69 1015.13 L693.19 1015.26 L694.69 1015.39 L696.18 1015.52 L697.68 1015.65 L699.17 1015.79 L700.67 1015.93 L702.16 1016.07 L703.66 1016.21 L705.15 1016.35 L706.65 1016.50 L708.15 1016.64 L709.64 1016.79 L711.14 1016.94 L712.63 1017.09 L714.13 1017.25 L715.62 1017.40 L717.12 1017.56 L718.61 1017.71 L720.11 1017.87 L721.60 1018.03 L723.10 1018.19" fill="none" stroke="#4a4a4a" stroke-width="1" stroke-dasharray="2.6 3.75"/>
</g>
<clipPath id="c9"><rect x="421.5" y="1087.7" width="297.6" height="224.0"/></clipPath>
<rect x="421.5" y="1087.7" width="297.6" height="224.0" fill="none" stroke="#7c7c7c" stroke-width="1"/>
<path d="M418.00 1087.7H421.5M719.1 1311.7V1315.00" stroke="#7c7c7c" stroke-width="1" fill="none"/>
<text x="416.60" y="1314.00" text-anchor="end" class="tl">0.05</text>
<text x="416.60" y="1249.60" text-anchor="end" class="tl">0.1</text>
<text x="416.60" y="1185.19" text-anchor="end" class="tl">0.15</text>
<text x="416.60" y="1120.79" text-anchor="end" class="tl">0.2</text>
<text x="425.26" y="1322.40" text-anchor="middle" class="tl">0.001</text>
<text x="495.90" y="1322.40" text-anchor="middle" class="tl">0.003</text>
<text x="570.30" y="1322.40" text-anchor="middle" class="tl">0.005</text>
<text x="644.70" y="1322.40" text-anchor="middle" class="tl">0.007</text>
<text x="716.14" y="1322.40" text-anchor="middle" class="tl">0.009</text>
<path d="M418.00 1311.70H421.5M418.00 1247.30H421.5M418.00 1182.89H421.5M418.00 1118.49H421.5M419.30 1279.50H421.5M419.30 1215.09H421.5M419.30 1150.69H421.5M421.50 1311.7V1315.00M495.90 1311.7V1315.00M570.30 1311.7V1315.00M644.70 1311.7V1315.00M719.10 1311.7V1315.00" stroke="#7c7c7c" stroke-width="1" fill="none"/>
<g clip-path="url(#c9)"><polygon points="580.60,1281.00 590.40,1285.60 580.60,1290.20" fill="#f282c2"/><polygon points="527.40,1272.30 532.15,1281.70 522.65,1281.70" fill="#3c7dc0"/><polygon points="610.60,1288.80 615.35,1298.20 605.85,1298.20" fill="#a244c2"/><rect x="462.85" y="1229.15" width="9.90" height="5.70" fill="#98b11f"/><circle cx="438.00" cy="1237.10" r="4.70" fill="#223e8e"/><polygon points="565.40,1239.10 570.20,1243.90 565.40,1248.70 560.60,1243.90" fill="#f07d00"/><polygon points="694.45,1140.55 703.95,1140.55 699.20,1149.85" fill="#4db81b"/><polygon points="438.00,1270.45 438.00,1280.15 428.00,1275.30" fill="#c0561c"/><rect x="429.90" y="1270.45" width="6.20" height="9.70" fill="#80dc92"/><circle cx="678.00" cy="1105.40" r="4.70" fill="#d8261b"/>
<line x1="421.5" y1="1276.20" x2="719.1" y2="1173.00" stroke="#262626" stroke-width="1.2"/>
<path d="M421.50 1197.12 L423.00 1197.21 L424.49 1197.29 L425.99 1197.37 L427.48 1197.45 L428.98 1197.53 L430.47 1197.60 L431.97 1197.66 L433.46 1197.73 L434.96 1197.79 L436.45 1197.84 L437.95 1197.89 L439.45 1197.94 L440.94 1197.98 L442.44 1198.01 L443.93 1198.05 L445.43 1198.07 L446.92 1198.10 L448.42 1198.11 L449.91 1198.13 L451.41 1198.13 L452.91 1198.13 L454.40 1198.13 L455.90 1198.12 L457.39 1198.11 L458.89 1198.09 L460.38 1198.06 L461.88 1198.03 L463.37 1197.99 L464.87 1197.94 L466.36 1197.89 L467.86 1197.83 L469.36 1197.76 L470.85 1197.69 L472.35 1197.61 L473.84 1197.52 L475.34 1197.43 L476.83 1197.32 L478.33 1197.21 L479.82 1197.09 L481.32 1196.97 L482.81 1196.83 L484.31 1196.69 L485.81 1196.54 L487.30 1196.38 L488.80 1196.21 L490.29 1196.03 L491.79 1195.84 L493.28 1195.64 L494.78 1195.43 L496.27 1195.22 L497.77 1194.99 L499.26 1194.75 L500.76 1194.50 L502.26 1194.25 L503.75 1193.98 L505.25 1193.70 L506.74 1193.41 L508.24 1193.11 L509.73 1192.80 L511.23 1192.47 L512.72 1192.14 L514.22 1191.79 L515.72 1191.43 L517.21 1191.06 L518.71 1190.68 L520.20 1190.29 L521.70 1189.88 L523.19 1189.47 L524.69 1189.04 L526.18 1188.60 L527.68 1188.14 L529.17 1187.68 L530.67 1187.20 L532.17 1186.71 L533.66 1186.20 L535.16 1185.69 L536.65 1185.16 L538.15 1184.62 L539.64 1184.07 L541.14 1183.50 L542.63 1182.93 L544.13 1182.34 L545.62 1181.74 L547.12 1181.12 L548.62 1180.50 L550.11 1179.86 L551.61 1179.21 L553.10 1178.55 L554.60 1177.88 L556.09 1177.19 L557.59 1176.50 L559.08 1175.79 L560.58 1175.07 L562.07 1174.34 L563.57 1173.60 L565.07 1172.85 L566.56 1172.09 L568.06 1171.31 L569.55 1170.53 L571.05 1169.74 L572.54 1168.94 L574.04 1168.12 L575.53 1167.30 L577.03 1166.47 L578.53 1165.63 L580.02 1164.77 L581.52 1163.91 L583.01 1163.05 L584.51 1162.17 L586.00 1161.28 L587.50 1160.39 L588.99 1159.48 L590.49 1158.57 L591.98 1157.65 L593.48 1156.73 L594.98 1155.79 L596.47 1154.85 L597.97 1153.90 L599.46 1152.94 L600.96 1151.98 L602.45 1151.01 L603.95 1150.03 L605.44 1149.05 L606.94 1148.06 L608.43 1147.06 L609.93 1146.06 L611.43 1145.05 L612.92 1144.04 L614.42 1143.02 L615.91 1141.99 L617.41 1140.96 L618.90 1139.93 L620.40 1138.89 L621.89 1137.84 L623.39 1136.79 L624.88 1135.73 L626.38 1134.67 L627.88 1133.61 L629.37 1132.54 L630.87 1131.46 L632.36 1130.38 L633.86 1129.30 L635.35 1128.21 L636.85 1127.12 L638.34 1126.03 L639.84 1124.93 L641.34 1123.82 L642.83 1122.72 L644.33 1121.61 L645.82 1120.49 L647.32 1119.38 L648.81 1118.26 L650.31 1117.13 L651.80 1116.01 L653.30 1114.88 L654.79 1113.74 L656.29 1112.61 L657.79 1111.47 L659.28 1110.33 L660.78 1109.18 L662.27 1108.03 L663.77 1106.88 L665.26 1105.73 L666.76 1104.58 L668.25 1103.42 L669.75 1102.26 L671.24 1101.10 L672.74 1099.93 L674.24 1098.76 L675.73 1097.59 L677.23 1096.42 L678.72 1095.25 L680.22 1094.07 L681.71 1092.90 L683.21 1091.72 L684.70 1090.53 L686.20 1089.35 L687.69 1088.17 L689.19 1086.98 L690.69 1085.79 L692.18 1084.60 L693.68 1083.41 L695.17 1082.21 L696.67 1081.02 L698.16 1079.82 L699.66 1078.62 L701.15 1077.42 L702.65 1076.22 L704.15 1075.01 L705.64 1073.81 L707.14 1072.60 L708.63 1071.39 L710.13 1070.18 L711.62 1068.97 L713.12 1067.76 L714.61 1066.55 L716.11 1065.33 L717.60 1064.11 L719.10 1062.90" fill="none" stroke="#4a4a4a" stroke-width="1" stroke-dasharray="2.6 3.75"/>
<path d="M421.50 1354.13 L423.00 1353.02 L424.49 1351.90 L425.99 1350.80 L427.48 1349.69 L428.98 1348.59 L430.47 1347.49 L431.97 1346.40 L433.46 1345.31 L434.96 1344.22 L436.45 1343.14 L437.95 1342.06 L439.45 1340.99 L440.94 1339.92 L442.44 1338.85 L443.93 1337.79 L445.43 1336.74 L446.92 1335.69 L448.42 1334.64 L449.91 1333.60 L451.41 1332.57 L452.91 1331.54 L454.40 1330.51 L455.90 1329.50 L457.39 1328.48 L458.89 1327.48 L460.38 1326.48 L461.88 1325.48 L463.37 1324.49 L464.87 1323.51 L466.36 1322.54 L467.86 1321.57 L469.36 1320.61 L470.85 1319.65 L472.35 1318.70 L473.84 1317.76 L475.34 1316.83 L476.83 1315.91 L478.33 1314.99 L479.82 1314.08 L481.32 1313.18 L482.81 1312.29 L484.31 1311.40 L485.81 1310.53 L487.30 1309.66 L488.80 1308.80 L490.29 1307.96 L491.79 1307.12 L493.28 1306.29 L494.78 1305.47 L496.27 1304.66 L497.77 1303.85 L499.26 1303.06 L500.76 1302.28 L502.26 1301.51 L503.75 1300.76 L505.25 1300.01 L506.74 1299.27 L508.24 1298.54 L509.73 1297.83 L511.23 1297.12 L512.72 1296.43 L514.22 1295.75 L515.72 1295.08 L517.21 1294.42 L518.71 1293.77 L520.20 1293.14 L521.70 1292.52 L523.19 1291.91 L524.69 1291.31 L526.18 1290.72 L527.68 1290.15 L529.17 1289.59 L530.67 1289.04 L532.17 1288.50 L533.66 1287.98 L535.16 1287.46 L536.65 1286.96 L538.15 1286.48 L539.64 1286.00 L541.14 1285.54 L542.63 1285.09 L544.13 1284.65 L545.62 1284.22 L547.12 1283.81 L548.62 1283.41 L550.11 1283.02 L551.61 1282.64 L553.10 1282.27 L554.60 1281.92 L556.09 1281.58 L557.59 1281.24 L559.08 1280.92 L560.58 1280.61 L562.07 1280.32 L563.57 1280.03 L565.07 1279.75 L566.56 1279.49 L568.06 1279.23 L569.55 1278.99 L571.05 1278.75 L572.54 1278.53 L574.04 1278.31 L575.53 1278.11 L577.03 1277.91 L578.53 1277.73 L580.02 1277.55 L581.52 1277.38 L583.01 1277.22 L584.51 1277.07 L586.00 1276.93 L587.50 1276.80 L588.99 1276.68 L590.49 1276.56 L591.98 1276.45 L593.48 1276.35 L594.98 1276.26 L596.47 1276.17 L597.97 1276.09 L599.46 1276.02 L600.96 1275.96 L602.45 1275.90 L603.95 1275.85 L605.44 1275.81 L606.94 1275.77 L608.43 1275.74 L609.93 1275.71 L611.43 1275.69 L612.92 1275.68 L614.42 1275.67 L615.91 1275.67 L617.41 1275.67 L618.90 1275.68 L620.40 1275.69 L621.89 1275.71 L623.39 1275.74 L624.88 1275.76 L626.38 1275.80 L627.88 1275.84 L629.37 1275.88 L630.87 1275.92 L632.36 1275.98 L633.86 1276.03 L635.35 1276.09 L636.85 1276.15 L638.34 1276.22 L639.84 1276.29 L641.34 1276.37 L642.83 1276.45 L644.33 1276.53 L645.82 1276.62 L647.32 1276.71 L648.81 1276.80 L650.31 1276.89 L651.80 1276.99 L653.30 1277.10 L654.79 1277.20 L656.29 1277.31 L657.79 1277.42 L659.28 1277.54 L660.78 1277.65 L662.27 1277.77 L663.77 1277.89 L665.26 1278.02 L666.76 1278.15 L668.25 1278.28 L669.75 1278.41 L671.24 1278.54 L672.74 1278.68 L674.24 1278.82 L675.73 1278.96 L677.23 1279.11 L678.72 1279.25 L680.22 1279.40 L681.71 1279.55 L683.21 1279.70 L684.70 1279.86 L686.20 1280.01 L687.69 1280.17 L689.19 1280.33 L690.69 1280.49 L692.18 1280.66 L693.68 1280.82 L695.17 1280.99 L696.67 1281.16 L698.16 1281.33 L699.66 1281.50 L701.15 1281.67 L702.65 1281.84 L704.15 1282.02 L705.64 1282.20 L707.14 1282.38 L708.63 1282.56 L710.13 1282.74 L711.62 1282.92 L713.12 1283.11 L714.61 1283.29 L716.11 1283.48 L717.60 1283.67 L719.10 1283.86" fill="none" stroke="#4a4a4a" stroke-width="1" stroke-dasharray="2.6 3.75"/>
</g>
<text class="big" x="-0.8" y="17.4" font-size="23.5" textLength="20.5" lengthAdjust="spacingAndGlyphs">a)</text>
<text class="big" x="64.3" y="17.4" font-size="23.5" textLength="247.8" lengthAdjust="spacingAndGlyphs">Asymmetric component</text>
<text class="big" x="377.6" y="17.4" font-size="23.5" textLength="21.4" lengthAdjust="spacingAndGlyphs">b)</text>
<text class="big" x="424.9" y="17.4" font-size="23.5" textLength="235.3" lengthAdjust="spacingAndGlyphs">Symmetric component</text>
<text class="big" transform="translate(18.9,1243.20) rotate(-90)" x="0" y="0" font-size="23.6" textLength="87.60" lengthAdjust="spacingAndGlyphs">variance</text>
<text class="big" transform="translate(18.9,1146.10) rotate(-90)" x="0" y="0" font-size="23.6" textLength="18.26" lengthAdjust="spacingAndGlyphs">of</text>
<text class="big" transform="translate(18.9,1121.00) rotate(-90)" x="0" y="0" font-size="23.6" textLength="31.00" lengthAdjust="spacingAndGlyphs">the</text>
<text class="big" transform="translate(18.9,1081.70) rotate(-90)" x="0" y="0" font-size="23.6" textLength="124.41" lengthAdjust="spacingAndGlyphs">eigenvalues</text>
<text class="big" transform="translate(18.9,948.40) rotate(-90)" x="0" y="0" font-size="23.6" textLength="67.09" lengthAdjust="spacingAndGlyphs">scaled</text>
<text class="big" transform="translate(18.9,871.80) rotate(-90)" x="0" y="0" font-size="23.6" textLength="26.20" lengthAdjust="spacingAndGlyphs">by</text>
<text class="big" transform="translate(18.9,840.40) rotate(-90)" x="0" y="0" font-size="23.6" textLength="30.40" lengthAdjust="spacingAndGlyphs">the</text>
<text class="big" transform="translate(18.9,801.50) rotate(-90)" x="0" y="0" font-size="23.6" textLength="41.40" lengthAdjust="spacingAndGlyphs">total</text>
<text class="big" transform="translate(18.9,751.20) rotate(-90)" x="0" y="0" font-size="23.6" textLength="87.60" lengthAdjust="spacingAndGlyphs">variance</text>
<text class="big" transform="translate(18.9,654.70) rotate(-90)" x="0" y="0" font-size="23.6" textLength="37.71" lengthAdjust="spacingAndGlyphs">and</text>
<text class="big" transform="translate(18.9,608.60) rotate(-90)" x="0" y="0" font-size="23.6" textLength="30.50" lengthAdjust="spacingAndGlyphs">the</text>
<text class="big" transform="translate(18.9,568.70) rotate(-90)" x="0" y="0" font-size="23.6" textLength="73.39" lengthAdjust="spacingAndGlyphs">number</text>
<text class="big" transform="translate(18.9,482.70) rotate(-90)" x="0" y="0" font-size="23.6" textLength="18.26" lengthAdjust="spacingAndGlyphs">of</text>
<text class="big" transform="translate(18.9,457.00) rotate(-90)" x="0" y="0" font-size="23.6" textLength="93.40" lengthAdjust="spacingAndGlyphs">variables</text>
<text class="big" transform="translate(749.0,256.3) rotate(-90)" x="0" y="0" font-size="23.5" textLength="127.2" lengthAdjust="spacingAndGlyphs">total sample</text>
<text class="big" transform="translate(749.0,509.2) rotate(-90)" x="0" y="0" font-size="23.5" textLength="96.1" lengthAdjust="spacingAndGlyphs">american</text>
<text class="big" transform="translate(749.0,774.6) rotate(-90)" x="0" y="0" font-size="23.5" textLength="98.4" lengthAdjust="spacingAndGlyphs">european</text>
<text class="big" transform="translate(749.0,1036.3) rotate(-90)" x="0" y="0" font-size="23.5" textLength="89.8" lengthAdjust="spacingAndGlyphs">admixed</text>
<text class="big" transform="translate(749.0,1309.3) rotate(-90)" x="0" y="0" font-size="23.5" textLength="132.6" lengthAdjust="spacingAndGlyphs">homozygous</text>
<text class="big" x="86.9" y="1355.6" font-size="23.2" textLength="139.5" lengthAdjust="spacingAndGlyphs">total variance</text>
<text class="big" x="162.6" y="1434.5" font-size="29" textLength="60.8" lengthAdjust="spacingAndGlyphs">FMH</text>
<text class="big" x="147.4" y="1515.9" font-size="29" textLength="76.8" lengthAdjust="spacingAndGlyphs">FTMH</text>
<text class="big" x="431.0" y="1435.4" font-size="29" textLength="69.0" lengthAdjust="spacingAndGlyphs">MMH</text>
<text class="big" x="416.3" y="1514.6" font-size="29" textLength="82.5" lengthAdjust="spacingAndGlyphs">NSMH</text>
<text class="big" x="263.0" y="1398.9" font-size="19.4">Mouth</text>
<text class="big" x="263.0" y="1420.4" font-size="19.4">Eyes</text>
<text class="big" x="263.0" y="1439.9" font-size="19.4">Ears</text>
<text class="big" x="263.0" y="1459.7" font-size="19.4">Nose</text>
<text class="big" x="262.5" y="1505.2" font-size="19.4">Middle</text>
<text class="big" x="262.5" y="1524.3" font-size="19.4">Inferior</text>
<text class="big" x="540" y="1415.2" font-size="19.4">Sagital</text>
<text class="big" x="540" y="1435.4" font-size="19.4">Midsagital</text>
<text class="big" x="540" y="1455" font-size="19.4">Lateral</text>
<text class="big" x="539" y="1501.2" font-size="19.4">Splachnocranium</text>
<text class="big" x="539" y="1519.8" font-size="19.4">Neurocranium</text>
<circle cx="249.7" cy="1392.9" r="6.3" fill="#d8261b"/>
<rect x="246.0" y="1408.1" width="7.9" height="12.8" fill="#80dc92"/>
<circle cx="249.7" cy="1434.3" r="6.3" fill="#223e8e"/>
<polygon points="243.4,1448.3 256.1,1454.6 243.4,1460.9" fill="#f282c2"/>
<polygon points="249.65,1492.86 255.89,1499.10 249.65,1505.34 243.41,1499.10" fill="#f07d00"/>
<polygon points="243.3,1511.9 256.0,1511.9 249.65,1524.6" fill="#4db81b"/>
<polygon points="526.9,1403.6 533.3,1415.7 520.6,1415.7" fill="#a244c2"/>
<polygon points="533.1,1423.8 533.1,1436.2 520.9,1430.0" fill="#bd541d"/>
<rect x="522.0" y="1444.1" width="10.2" height="10.0" fill="#b044c4"/>
<polygon points="526.30,1489.69 532.47,1501.91 520.12,1501.91" fill="#3c7dc0"/>
<rect x="520.0" y="1511.4" width="12.5" height="7.3" fill="#98b11f"/>
</svg>
</body></html>
